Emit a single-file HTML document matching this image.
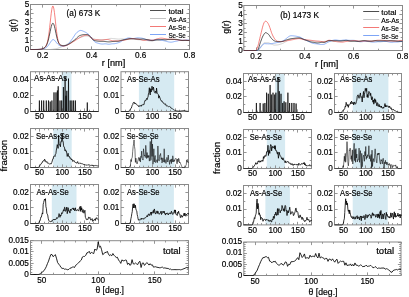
<!DOCTYPE html>
<html><head><meta charset="utf-8"><style>
html,body{margin:0;padding:0;background:#fff;width:409px;height:297px;overflow:hidden}
svg{display:block;will-change:transform}
text{font-family:"Liberation Sans", sans-serif;stroke:#000;stroke-width:0.18px}
</style></head><body>
<svg width="409" height="297" viewBox="0 0 409 297" font-family='"Liberation Sans", sans-serif'>
<rect width="409" height="297" fill="#fff"/>
<path d="M42.5 49.5v-3.1M42.5 4.5v3.1M91.5 49.5v-3.1M91.5 4.5v3.1M140.5 49.5v-3.1M140.5 4.5v3.1M189.5 49.5v-3.1M189.5 4.5v3.1M67.5 49.5v-1.8M67.5 4.5v1.8M116.5 49.5v-1.8M116.5 4.5v1.8M165.5 49.5v-1.8M165.5 4.5v1.8M30.5 49.5h3.1M189.5 49.5h-3.1M30.5 40.5h3.1M189.5 40.5h-3.1M30.5 31.5h3.1M189.5 31.5h-3.1M30.5 22.5h3.1M189.5 22.5h-3.1M30.5 13.5h3.1M189.5 13.5h-3.1M30.5 4.5h3.1M189.5 4.5h-3.1M30.5 45.5h1.8M189.5 45.5h-1.8M30.5 36.5h1.8M189.5 36.5h-1.8M30.5 27.5h1.8M189.5 27.5h-1.8M30.5 18.5h1.8M189.5 18.5h-1.8M30.5 9.5h1.8M189.5 9.5h-1.8" stroke="#8a8a8a" stroke-width="0.9" fill="none"/>
<rect x="30.5" y="4.5" width="159" height="45" fill="none" stroke="#8a8a8a" stroke-width="1.0"/>
<polyline points="30.50,49.50 31.03,49.50 31.56,49.50 32.10,49.50 32.63,49.50 33.16,49.50 33.69,49.50 34.22,49.50 34.75,49.50 35.29,49.50 35.82,49.50 36.35,49.50 36.88,49.50 37.41,49.50 37.94,49.50 38.48,49.50 39.01,49.50 39.54,49.50 40.07,49.50 40.60,49.50 41.14,49.50 41.67,49.50 42.20,49.50 42.73,49.50 43.26,49.50 43.79,49.50 44.33,49.50 44.86,49.50 45.39,49.50 45.92,49.50 46.45,49.50 46.98,49.50 47.52,49.50 48.05,49.50 48.58,49.50 49.11,49.50 49.64,49.49 50.18,49.47 50.71,49.44 51.24,49.40 51.77,49.35 52.30,49.30 52.83,49.24 53.37,49.17 53.90,49.10 54.43,49.03 54.96,48.96 55.49,48.87 56.03,48.76 56.56,48.63 57.09,48.47 57.62,48.30 58.15,48.13 58.68,47.94 59.22,47.75 59.75,47.56 60.28,47.36 60.81,47.15 61.34,46.92 61.87,46.68 62.41,46.43 62.94,46.18 63.47,45.93 64.00,45.67 64.53,45.41 65.07,45.13 65.60,44.86 66.13,44.58 66.66,44.29 67.19,44.00 67.72,43.71 68.26,43.42 68.79,43.13 69.32,42.84 69.85,42.55 70.38,42.27 70.91,41.99 71.45,41.72 71.98,41.45 72.51,41.19 73.04,40.92 73.57,40.64 74.11,40.36 74.64,40.08 75.17,39.80 75.70,39.52 76.23,39.24 76.76,38.96 77.30,38.70 77.83,38.44 78.36,38.19 78.89,37.95 79.42,37.72 79.95,37.51 80.49,37.32 81.02,37.14 81.55,36.98 82.08,36.85 82.61,36.71 83.15,36.57 83.68,36.44 84.21,36.32 84.74,36.21 85.27,36.12 85.80,36.05 86.34,36.01 86.87,36.00 87.40,36.06 87.93,36.19 88.46,36.37 88.99,36.59 89.53,36.84 90.06,37.10 90.59,37.35 91.12,37.59 91.65,37.80 92.19,38.00 92.72,38.22 93.25,38.46 93.78,38.69 94.31,38.92 94.84,39.12 95.38,39.30 95.91,39.43 96.44,39.50 96.97,39.53 97.50,39.55 98.04,39.56 98.57,39.57 99.10,39.56 99.63,39.55 100.16,39.54 100.69,39.53 101.23,39.51 101.76,39.51 102.29,39.51 102.82,39.52 103.35,39.54 103.88,39.57 104.42,39.61 104.95,39.63 105.48,39.63 106.01,39.60 106.54,39.52 107.08,39.41 107.61,39.24 108.14,39.05 108.67,38.85 109.20,38.67 109.73,38.53 110.27,38.45 110.80,38.42 111.33,38.43 111.86,38.47 112.39,38.52 112.92,38.57 113.46,38.61 113.99,38.65 114.52,38.69 115.05,38.73 115.58,38.78 116.12,38.85 116.65,38.92 117.18,38.98 117.71,39.04 118.24,39.08 118.77,39.10 119.31,39.09 119.84,39.05 120.37,39.01 120.90,38.96 121.43,38.93 121.96,38.92 122.50,38.94 123.03,38.99 123.56,39.05 124.09,39.11 124.62,39.17 125.16,39.23 125.69,39.28 126.22,39.33 126.75,39.38 127.28,39.42 127.81,39.45 128.35,39.45 128.88,39.43 129.41,39.37 129.94,39.29 130.47,39.18 131.01,39.06 131.54,38.95 132.07,38.86 132.60,38.79 133.13,38.75 133.66,38.76 134.20,38.81 134.73,38.90 135.26,39.02 135.79,39.18 136.32,39.34 136.85,39.48 137.39,39.59 137.92,39.67 138.45,39.72 138.98,39.75 139.51,39.78 140.05,39.82 140.58,39.87 141.11,39.93 141.64,40.00 142.17,40.08 142.70,40.16 143.24,40.24 143.77,40.31 144.30,40.36 144.83,40.40 145.36,40.43 145.89,40.45 146.43,40.47 146.96,40.51 147.49,40.56 148.02,40.64 148.55,40.73 149.09,40.83 149.62,40.92 150.15,40.99 150.68,41.01 151.21,41.00 151.74,40.96 152.28,40.89 152.81,40.80 153.34,40.70 153.87,40.60 154.40,40.51 154.93,40.43 155.47,40.37 156.00,40.32 156.53,40.30 157.06,40.29 157.59,40.29 158.13,40.30 158.66,40.31 159.19,40.30 159.72,40.27 160.25,40.20 160.78,40.11 161.32,39.98 161.85,39.84 162.38,39.68 162.91,39.54 163.44,39.42 163.97,39.34 164.51,39.30 165.04,39.31 165.57,39.34 166.10,39.40 166.63,39.46 167.17,39.51 167.70,39.56 168.23,39.59 168.76,39.59 169.29,39.58 169.82,39.56 170.36,39.52 170.89,39.48 171.42,39.44 171.95,39.39 172.48,39.34 173.02,39.29 173.55,39.23 174.08,39.18 174.61,39.13 175.14,39.11 175.67,39.12 176.21,39.17 176.74,39.24 177.27,39.35 177.80,39.48 178.33,39.63 178.86,39.78 179.40,39.92 179.93,40.04 180.46,40.14 180.99,40.20 181.52,40.23 182.06,40.23 182.59,40.20 183.12,40.17 183.65,40.14 184.18,40.13 184.71,40.15 185.25,40.20 185.78,40.28 186.31,40.37 186.84,40.45 187.37,40.51 187.90,40.55 188.44,40.56 188.97,40.56 189.50,40.56" fill="none" stroke="#bdbdbd" stroke-width="0.7" stroke-linejoin="round"/>
<polyline points="30.50,49.50 31.03,49.50 31.56,49.50 32.10,49.50 32.63,49.50 33.16,49.50 33.69,49.49 34.22,49.49 34.75,49.49 35.29,49.48 35.82,49.48 36.35,49.47 36.88,49.46 37.41,49.45 37.94,49.43 38.48,49.41 39.01,49.38 39.54,49.35 40.07,49.30 40.60,49.25 41.14,49.18 41.67,49.11 42.20,49.01 42.73,48.90 43.26,48.77 43.79,48.62 44.33,48.44 44.86,48.23 45.39,47.97 45.92,47.67 46.45,47.31 46.98,46.88 47.52,46.37 48.05,45.78 48.58,45.11 49.11,44.35 49.64,43.54 50.18,42.70 50.71,41.88 51.24,41.11 51.77,40.45 52.30,39.96 52.83,39.67 53.37,39.61 53.90,39.77 54.43,40.16 54.96,40.72 55.49,41.40 56.03,42.09 56.56,42.77 57.09,43.41 57.62,43.99 58.15,44.50 58.68,44.95 59.22,45.32 59.75,45.59 60.28,45.79 60.81,45.92 61.34,46.02 61.87,46.09 62.41,46.13 62.94,46.12 63.47,46.06 64.00,45.99 64.53,45.89 65.07,45.75 65.60,45.59 66.13,45.39 66.66,45.15 67.19,44.86 67.72,44.49 68.26,44.02 68.79,43.46 69.32,42.83 69.85,42.15 70.38,41.43 70.91,40.70 71.45,39.98 71.98,39.28 72.51,38.57 73.04,37.79 73.57,36.97 74.11,36.12 74.64,35.29 75.17,34.49 75.70,33.75 76.23,33.10 76.76,32.57 77.30,32.16 77.83,31.75 78.36,31.36 78.89,31.01 79.42,30.73 79.95,30.52 80.49,30.43 81.02,30.44 81.55,30.54 82.08,30.70 82.61,30.90 83.15,31.14 83.68,31.39 84.21,31.63 84.74,31.88 85.27,32.15 85.80,32.44 86.34,32.76 86.87,33.11 87.40,33.49 87.93,33.89 88.46,34.34 88.99,34.85 89.53,35.42 90.06,36.02 90.59,36.64 91.12,37.35 91.65,38.12 92.19,38.91 92.72,39.65 93.25,40.27 93.78,40.85 94.31,41.40 94.84,41.88 95.38,42.27 95.91,42.55 96.44,42.72 96.97,42.88 97.50,43.04 98.04,43.20 98.57,43.36 99.10,43.51 99.63,43.65 100.16,43.78 100.69,43.88 101.23,43.96 101.76,44.01 102.29,44.03 102.82,44.03 103.35,43.99 103.88,43.93 104.42,43.87 104.95,43.82 105.48,43.82 106.01,43.86 106.54,43.93 107.08,44.03 107.61,44.13 108.14,44.21 108.67,44.24 109.20,44.23 109.73,44.18 110.27,44.10 110.80,44.01 111.33,43.92 111.86,43.85 112.39,43.80 112.92,43.77 113.46,43.75 113.99,43.72 114.52,43.68 115.05,43.61 115.58,43.52 116.12,43.41 116.65,43.28 117.18,43.13 117.71,42.95 118.24,42.77 118.77,42.58 119.31,42.38 119.84,42.15 120.37,41.89 120.90,41.60 121.43,41.27 121.96,40.92 122.50,40.56 123.03,40.21 123.56,39.89 124.09,39.58 124.62,39.29 125.16,39.01 125.69,38.77 126.22,38.55 126.75,38.36 127.28,38.20 127.81,38.08 128.35,38.00 128.88,37.96 129.41,37.97 129.94,38.02 130.47,38.12 131.01,38.25 131.54,38.37 132.07,38.46 132.60,38.52 133.13,38.54 133.66,38.51 134.20,38.45 134.73,38.36 135.26,38.25 135.79,38.14 136.32,38.03 136.85,37.94 137.39,37.88 137.92,37.85 138.45,37.85 138.98,37.88 139.51,37.91 140.05,37.95 140.58,37.99 141.11,38.04 141.64,38.12 142.17,38.23 142.70,38.36 143.24,38.51 143.77,38.69 144.30,38.88 144.83,39.08 145.36,39.30 145.89,39.52 146.43,39.74 146.96,39.94 147.49,40.10 148.02,40.21 148.55,40.27 149.09,40.29 149.62,40.28 150.15,40.25 150.68,40.20 151.21,40.16 151.74,40.13 152.28,40.13 152.81,40.13 153.34,40.13 153.87,40.11 154.40,40.05 154.93,39.96 155.47,39.84 156.00,39.72 156.53,39.61 157.06,39.54 157.59,39.52 158.13,39.55 158.66,39.63 159.19,39.74 159.72,39.88 160.25,40.02 160.78,40.15 161.32,40.28 161.85,40.38 162.38,40.47 162.91,40.56 163.44,40.64 163.97,40.74 164.51,40.85 165.04,40.97 165.57,41.11 166.10,41.26 166.63,41.41 167.17,41.56 167.70,41.70 168.23,41.83 168.76,41.94 169.29,42.03 169.82,42.10 170.36,42.15 170.89,42.17 171.42,42.15 171.95,42.10 172.48,42.01 173.02,41.89 173.55,41.76 174.08,41.63 174.61,41.51 175.14,41.40 175.67,41.30 176.21,41.21 176.74,41.10 177.27,40.98 177.80,40.83 178.33,40.67 178.86,40.52 179.40,40.38 179.93,40.28 180.46,40.22 180.99,40.20 181.52,40.20 182.06,40.23 182.59,40.25 183.12,40.24 183.65,40.21 184.18,40.16 184.71,40.10 185.25,40.04 185.78,40.00 186.31,39.97 186.84,39.98 187.37,40.00 187.90,40.03 188.44,40.08 188.97,40.14 189.50,40.22" fill="none" stroke="#5a8df2" stroke-width="0.7" stroke-linejoin="round"/>
<polyline points="30.50,49.50 31.03,49.50 31.56,49.50 32.10,49.50 32.63,49.50 33.16,49.50 33.69,49.50 34.22,49.50 34.75,49.50 35.29,49.49 35.82,49.49 36.35,49.48 36.88,49.48 37.41,49.47 37.94,49.45 38.48,49.43 39.01,49.40 39.54,49.36 40.07,49.30 40.60,49.23 41.14,49.14 41.67,49.02 42.20,48.88 42.73,48.69 43.26,48.46 43.79,48.17 44.33,47.80 44.86,47.34 45.39,46.74 45.92,45.95 46.45,44.89 46.98,43.47 47.52,41.57 48.05,39.09 48.58,35.94 49.11,32.10 49.64,27.66 50.18,22.80 50.71,17.86 51.24,13.26 51.77,9.48 52.30,6.94 52.83,5.95 53.37,6.64 53.90,8.92 54.43,12.51 54.96,16.99 55.49,21.90 56.03,26.80 56.56,31.32 57.09,35.16 57.62,38.26 58.15,40.64 58.68,42.39 59.22,43.65 59.75,44.52 60.28,45.06 60.81,45.38 61.34,45.58 61.87,45.75 62.41,45.90 62.94,46.02 63.47,46.07 64.00,46.05 64.53,45.98 65.07,45.86 65.60,45.71 66.13,45.53 66.66,45.32 67.19,45.10 67.72,44.87 68.26,44.61 68.79,44.34 69.32,44.06 69.85,43.76 70.38,43.46 70.91,43.15 71.45,42.83 71.98,42.51 72.51,42.19 73.04,41.86 73.57,41.53 74.11,41.21 74.64,40.89 75.17,40.55 75.70,40.21 76.23,39.85 76.76,39.49 77.30,39.13 77.83,38.78 78.36,38.44 78.89,38.11 79.42,37.80 79.95,37.51 80.49,37.22 81.02,36.94 81.55,36.66 82.08,36.39 82.61,36.14 83.15,35.92 83.68,35.72 84.21,35.57 84.74,35.46 85.27,35.34 85.80,35.24 86.34,35.16 86.87,35.11 87.40,35.11 87.93,35.23 88.46,35.48 88.99,35.82 89.53,36.22 90.06,36.63 90.59,37.02 91.12,37.55 91.65,38.17 92.19,38.77 92.72,39.24 93.25,39.47 93.78,39.60 94.31,39.71 94.84,39.77 95.38,39.81 95.91,39.81 96.44,39.79 96.97,39.79 97.50,39.81 98.04,39.86 98.57,39.92 99.10,39.98 99.63,40.05 100.16,40.10 100.69,40.13 101.23,40.14 101.76,40.13 102.29,40.10 102.82,40.04 103.35,39.96 103.88,39.87 104.42,39.76 104.95,39.66 105.48,39.58 106.01,39.51 106.54,39.47 107.08,39.46 107.61,39.49 108.14,39.57 108.67,39.68 109.20,39.83 109.73,39.99 110.27,40.16 110.80,40.34 111.33,40.51 111.86,40.65 112.39,40.77 112.92,40.85 113.46,40.90 113.99,40.91 114.52,40.91 115.05,40.89 115.58,40.88 116.12,40.87 116.65,40.87 117.18,40.87 117.71,40.86 118.24,40.84 118.77,40.81 119.31,40.77 119.84,40.72 120.37,40.67 120.90,40.62 121.43,40.57 121.96,40.52 122.50,40.46 123.03,40.40 123.56,40.33 124.09,40.24 124.62,40.13 125.16,40.00 125.69,39.86 126.22,39.71 126.75,39.56 127.28,39.42 127.81,39.28 128.35,39.14 128.88,39.01 129.41,38.89 129.94,38.79 130.47,38.70 131.01,38.63 131.54,38.58 132.07,38.55 132.60,38.54 133.13,38.56 133.66,38.60 134.20,38.68 134.73,38.77 135.26,38.87 135.79,38.98 136.32,39.07 136.85,39.14 137.39,39.20 137.92,39.24 138.45,39.29 138.98,39.34 139.51,39.41 140.05,39.50 140.58,39.62 141.11,39.75 141.64,39.90 142.17,40.05 142.70,40.18 143.24,40.27 143.77,40.33 144.30,40.35 144.83,40.32 145.36,40.25 145.89,40.17 146.43,40.08 146.96,40.02 147.49,39.98 148.02,39.98 148.55,40.00 149.09,40.04 149.62,40.09 150.15,40.13 150.68,40.17 151.21,40.20 151.74,40.21 152.28,40.21 152.81,40.18 153.34,40.11 153.87,39.98 154.40,39.82 154.93,39.63 155.47,39.44 156.00,39.25 156.53,39.06 157.06,38.90 157.59,38.74 158.13,38.60 158.66,38.47 159.19,38.36 159.72,38.27 160.25,38.20 160.78,38.16 161.32,38.15 161.85,38.16 162.38,38.20 162.91,38.27 163.44,38.36 163.97,38.44 164.51,38.53 165.04,38.63 165.57,38.73 166.10,38.83 166.63,38.93 167.17,39.03 167.70,39.12 168.23,39.19 168.76,39.24 169.29,39.25 169.82,39.24 170.36,39.22 170.89,39.19 171.42,39.18 171.95,39.19 172.48,39.22 173.02,39.27 173.55,39.33 174.08,39.41 174.61,39.49 175.14,39.57 175.67,39.64 176.21,39.72 176.74,39.79 177.27,39.87 177.80,39.95 178.33,40.03 178.86,40.11 179.40,40.19 179.93,40.25 180.46,40.31 180.99,40.36 181.52,40.38 182.06,40.38 182.59,40.36 183.12,40.32 183.65,40.27 184.18,40.22 184.71,40.19 185.25,40.19 185.78,40.22 186.31,40.28 186.84,40.34 187.37,40.38 187.90,40.40 188.44,40.39 188.97,40.34 189.50,40.27" fill="none" stroke="#f04c48" stroke-width="0.7" stroke-linejoin="round"/>
<polyline points="30.50,49.50 31.03,49.50 31.56,49.50 32.10,49.50 32.63,49.50 33.16,49.50 33.69,49.50 34.22,49.50 34.75,49.49 35.29,49.49 35.82,49.49 36.35,49.48 36.88,49.47 37.41,49.46 37.94,49.44 38.48,49.41 39.01,49.38 39.54,49.34 40.07,49.29 40.60,49.22 41.14,49.13 41.67,49.02 42.20,48.88 42.73,48.71 43.26,48.49 43.79,48.22 44.33,47.88 44.86,47.45 45.39,46.90 45.92,46.19 46.45,45.28 46.98,44.13 47.52,42.70 48.05,40.96 48.58,38.92 49.11,36.59 49.64,34.06 50.18,31.46 50.71,28.93 51.24,26.67 51.77,24.87 52.30,23.68 52.83,23.22 53.37,23.54 53.90,24.60 54.43,26.31 54.96,28.50 55.49,30.99 56.03,33.60 56.56,36.11 57.09,38.34 57.62,40.21 58.15,41.73 58.68,42.91 59.22,43.82 59.75,44.49 60.28,44.91 60.81,45.16 61.34,45.31 61.87,45.45 62.41,45.58 62.94,45.67 63.47,45.72 64.00,45.70 64.53,45.64 65.07,45.56 65.60,45.44 66.13,45.29 66.66,45.11 67.19,44.91 67.72,44.68 68.26,44.41 68.79,44.12 69.32,43.80 69.85,43.47 70.38,43.11 70.91,42.75 71.45,42.37 71.98,41.97 72.51,41.58 73.04,41.18 73.57,40.77 74.11,40.37 74.64,39.97 75.17,39.53 75.70,39.04 76.23,38.52 76.76,37.98 77.30,37.46 77.83,36.95 78.36,36.49 78.89,36.09 79.42,35.77 79.95,35.54 80.49,35.35 81.02,35.18 81.55,35.02 82.08,34.87 82.61,34.75 83.15,34.65 83.68,34.59 84.21,34.56 84.74,34.56 85.27,34.57 85.80,34.58 86.34,34.60 86.87,34.63 87.40,34.67 87.93,34.82 88.46,35.11 88.99,35.49 89.53,35.93 90.06,36.40 90.59,36.87 91.12,37.48 91.65,38.22 92.19,38.94 92.72,39.54 93.25,39.92 93.78,40.19 94.31,40.42 94.84,40.63 95.38,40.79 95.91,40.91 96.44,40.98 96.97,41.05 97.50,41.12 98.04,41.18 98.57,41.24 99.10,41.29 99.63,41.33 100.16,41.35 100.69,41.37 101.23,41.37 101.76,41.38 102.29,41.38 102.82,41.38 103.35,41.39 103.88,41.42 104.42,41.46 104.95,41.51 105.48,41.57 106.01,41.63 106.54,41.69 107.08,41.75 107.61,41.80 108.14,41.84 108.67,41.87 109.20,41.87 109.73,41.84 110.27,41.80 110.80,41.74 111.33,41.67 111.86,41.60 112.39,41.54 112.92,41.48 113.46,41.43 113.99,41.39 114.52,41.36 115.05,41.34 115.58,41.34 116.12,41.34 116.65,41.34 117.18,41.33 117.71,41.31 118.24,41.25 118.77,41.17 119.31,41.04 119.84,40.89 120.37,40.71 120.90,40.53 121.43,40.34 121.96,40.18 122.50,40.04 123.03,39.92 123.56,39.83 124.09,39.75 124.62,39.67 125.16,39.58 125.69,39.48 126.22,39.38 126.75,39.27 127.28,39.15 127.81,39.02 128.35,38.90 128.88,38.80 129.41,38.73 129.94,38.70 130.47,38.71 131.01,38.74 131.54,38.78 132.07,38.82 132.60,38.85 133.13,38.87 133.66,38.89 134.20,38.91 134.73,38.94 135.26,38.97 135.79,38.99 136.32,39.00 136.85,39.02 137.39,39.04 137.92,39.06 138.45,39.10 138.98,39.14 139.51,39.16 140.05,39.17 140.58,39.15 141.11,39.12 141.64,39.08 142.17,39.05 142.70,39.04 143.24,39.06 143.77,39.10 144.30,39.16 144.83,39.24 145.36,39.32 145.89,39.40 146.43,39.49 146.96,39.58 147.49,39.68 148.02,39.78 148.55,39.89 149.09,40.02 149.62,40.15 150.15,40.28 150.68,40.41 151.21,40.51 151.74,40.57 152.28,40.58 152.81,40.55 153.34,40.47 153.87,40.36 154.40,40.23 154.93,40.10 155.47,39.99 156.00,39.91 156.53,39.87 157.06,39.84 157.59,39.84 158.13,39.83 158.66,39.80 159.19,39.77 159.72,39.71 160.25,39.66 160.78,39.61 161.32,39.57 161.85,39.55 162.38,39.56 162.91,39.60 163.44,39.66 163.97,39.73 164.51,39.79 165.04,39.83 165.57,39.84 166.10,39.81 166.63,39.74 167.17,39.65 167.70,39.55 168.23,39.47 168.76,39.41 169.29,39.38 169.82,39.37 170.36,39.38 170.89,39.41 171.42,39.43 171.95,39.45 172.48,39.46 173.02,39.46 173.55,39.45 174.08,39.44 174.61,39.44 175.14,39.45 175.67,39.46 176.21,39.48 176.74,39.51 177.27,39.55 177.80,39.62 178.33,39.71 178.86,39.83 179.40,39.96 179.93,40.10 180.46,40.23 180.99,40.34 181.52,40.43 182.06,40.48 182.59,40.52 183.12,40.53 183.65,40.52 184.18,40.51 184.71,40.50 185.25,40.49 185.78,40.48 186.31,40.48 186.84,40.48 187.37,40.48 187.90,40.48 188.44,40.48 188.97,40.48 189.50,40.49" fill="none" stroke="#111" stroke-width="0.7" stroke-linejoin="round"/>
<text x="66.5" y="15.8" font-size="8.2" textLength="33.8" lengthAdjust="spacingAndGlyphs">(a) 673 K</text>
<line x1="150" y1="10.5" x2="166" y2="10.5" stroke="#3a3a3a" stroke-width="0.9"/>
<text x="168.4" y="13.6" font-size="8.0" textLength="15.2" lengthAdjust="spacingAndGlyphs">total</text>
<line x1="150" y1="18.5" x2="166" y2="18.5" stroke="#bdbdbd" stroke-width="0.9"/>
<text x="168.4" y="21.6" font-size="8.0" textLength="18" lengthAdjust="spacingAndGlyphs">As-As</text>
<line x1="150" y1="26.5" x2="166" y2="26.5" stroke="#f26a66" stroke-width="0.9"/>
<text x="168.4" y="29.6" font-size="8.0" textLength="17.6" lengthAdjust="spacingAndGlyphs">As-Se</text>
<line x1="150" y1="34.5" x2="166" y2="34.5" stroke="#6f9bf5" stroke-width="0.9"/>
<text x="168.4" y="37.6" font-size="8.0" textLength="17.4" lengthAdjust="spacingAndGlyphs">Se-Se</text>
<text x="29.4" y="52.4" font-size="8.2" text-anchor="end">0</text>
<text x="29.4" y="43.4" font-size="8.2" text-anchor="end">1</text>
<text x="29.4" y="34.4" font-size="8.2" text-anchor="end">2</text>
<text x="29.4" y="25.4" font-size="8.2" text-anchor="end">3</text>
<text x="29.4" y="16.4" font-size="8.2" text-anchor="end">4</text>
<text x="29.4" y="7.4" font-size="8.2" text-anchor="end">5</text>
<text x="42.73" y="57.7" font-size="8.2" text-anchor="middle">0.2</text>
<text x="91.65" y="57.7" font-size="8.2" text-anchor="middle">0.4</text>
<text x="140.58" y="57.7" font-size="8.2" text-anchor="middle">0.6</text>
<text x="189.5" y="57.7" font-size="8.2" text-anchor="middle">0.8</text>
<text x="16.1" y="25.4" font-size="8.6" text-anchor="middle" textLength="12.6" lengthAdjust="spacingAndGlyphs" transform="rotate(-90 16.1 25.4)">g(r)</text>
<text x="113.5" y="65.5" font-size="8.4" text-anchor="middle" textLength="23.4" lengthAdjust="spacingAndGlyphs">r [nm]</text>
<rect x="61.5" y="71.7" width="10" height="39.8" fill="#d6eaf2"/>
<path d="M39.5 111.5v-3.1M39.5 71.7v3.1M62.5 111.5v-3.1M62.5 71.7v3.1M84.5 111.5v-3.1M84.5 71.7v3.1M35.5 111.5v-1.8M35.5 71.7v1.8M44.5 111.5v-1.8M44.5 71.7v1.8M48.5 111.5v-1.8M48.5 71.7v1.8M53.5 111.5v-1.8M53.5 71.7v1.8M57.5 111.5v-1.8M57.5 71.7v1.8M66.5 111.5v-1.8M66.5 71.7v1.8M71.5 111.5v-1.8M71.5 71.7v1.8M75.5 111.5v-1.8M75.5 71.7v1.8M80.5 111.5v-1.8M80.5 71.7v1.8M89.5 111.5v-1.8M89.5 71.7v1.8M93.5 111.5v-1.8M93.5 71.7v1.8M30.5 111.5h3.1M98.5 111.5h-3.1M30.5 95.5h3.1M98.5 95.5h-3.1M30.5 79.5h3.1M98.5 79.5h-3.1M30.5 103.5h1.8M98.5 103.5h-1.8M30.5 87.5h1.8M98.5 87.5h-1.8" stroke="#8a8a8a" stroke-width="0.9" fill="none"/>
<rect x="30.5" y="71.7" width="68" height="39.8" fill="none" stroke="#8a8a8a" stroke-width="1.0"/>
<path d="M30.5 111.5L39.18 111.5L39.4 100.52L39.62 111.5L41.38 111.5L41.6 100.52L41.82 111.5L43.48 111.5L43.7 100.52L43.92 111.5L46.08 111.5L46.3 100.52L46.52 111.5L48.28 111.5L48.5 100.52L48.72 111.5L49.98 111.5L50.2 101.55L50.42 111.5L51.68 111.5L51.9 100.52L52.12 111.5L53.78 111.5L54 92.4L54.22 111.5L55.78 111.5L56 92.4L56.22 111.5L57.18 111.5L57.4 90.49L57.62 111.5L57.98 111.5L58.2 86.27L58.42 111.5L59.78 111.5L60 100.52L60.22 111.5L61.48 111.5L61.7 100.52L61.92 111.5L63.18 111.5L63.4 87.06L63.62 111.5L64.88 111.5L65.1 76.79L65.32 111.5L65.78 111.5L66 95.74L66.22 111.5L66.58 111.5L66.8 90.8L67.02 111.5L68.28 111.5L68.5 78.63L68.72 111.5L69.98 111.5L70.2 100.52L70.42 111.5L71.68 111.5L71.9 100.52L72.12 111.5L73.38 111.5L73.6 100.52L73.82 111.5L75.18 111.5L75.4 100.52L75.62 111.5L87.08 111.5L87.3 102.51L87.52 111.5L98.5 111.5" fill="none" stroke="#000" stroke-width="0.7" stroke-linejoin="round"/>
<text x="34.1" y="81.3" font-size="8.3" textLength="33.1" lengthAdjust="spacingAndGlyphs">As-As-As</text>
<text x="28.9" y="113.8" font-size="8.2" text-anchor="end">0</text>
<text x="28.9" y="97.88" font-size="8.2" text-anchor="end">0.02</text>
<text x="28.9" y="81.96" font-size="8.2" text-anchor="end">0.04</text>
<text x="39.57" y="119.4" font-size="8.2" text-anchor="middle">50</text>
<text x="62.23" y="119.4" font-size="8.2" text-anchor="middle">100</text>
<text x="84.9" y="119.4" font-size="8.2" text-anchor="middle">150</text>
<rect x="138.9" y="71.7" width="35.3" height="39.8" fill="#d6eaf2"/>
<path d="M130.5 111.5v-3.1M130.5 71.7v3.1M152.5 111.5v-3.1M152.5 71.7v3.1M175.5 111.5v-3.1M175.5 71.7v3.1M125.5 111.5v-1.8M125.5 71.7v1.8M134.5 111.5v-1.8M134.5 71.7v1.8M139.5 111.5v-1.8M139.5 71.7v1.8M143.5 111.5v-1.8M143.5 71.7v1.8M148.5 111.5v-1.8M148.5 71.7v1.8M157.5 111.5v-1.8M157.5 71.7v1.8M161.5 111.5v-1.8M161.5 71.7v1.8M166.5 111.5v-1.8M166.5 71.7v1.8M170.5 111.5v-1.8M170.5 71.7v1.8M179.5 111.5v-1.8M179.5 71.7v1.8M184.5 111.5v-1.8M184.5 71.7v1.8M121 111.5h3.1M188.5 111.5h-3.1M121 95.5h3.1M188.5 95.5h-3.1M121 79.5h3.1M188.5 79.5h-3.1M121 103.5h1.8M188.5 103.5h-1.8M121 87.5h1.8M188.5 87.5h-1.8" stroke="#8a8a8a" stroke-width="0.9" fill="none"/>
<rect x="121" y="71.7" width="67.5" height="39.8" fill="none" stroke="#8a8a8a" stroke-width="1.0"/>
<polyline points="121.00,111.50 121.45,111.50 121.90,111.50 122.35,111.50 122.80,111.50 123.25,111.50 123.70,111.50 124.15,111.50 124.60,111.50 125.05,111.50 125.50,111.50 125.95,111.50 126.40,111.50 126.85,111.50 127.30,111.50 127.75,111.50 128.20,111.50 128.65,111.35 129.10,110.92 129.55,110.32 130.00,109.76 130.45,109.03 130.90,108.51 131.35,108.08 131.80,106.50 132.25,105.24 132.70,104.73 133.15,102.80 133.60,102.47 134.05,101.98 134.50,102.93 134.95,103.93 135.40,102.96 135.85,103.61 136.30,104.40 136.75,104.86 137.20,105.11 137.65,105.35 138.10,105.75 138.55,106.53 139.00,105.46 139.45,106.37 139.90,105.88 140.35,105.84 140.80,105.56 141.25,106.27 141.70,105.03 142.15,105.18 142.60,104.92 143.05,104.25 143.50,104.66 143.95,104.76 144.40,102.53 144.85,100.99 145.30,100.15 145.75,100.60 146.20,99.49 146.65,98.42 147.10,99.65 147.55,97.83 148.00,97.07 148.45,93.88 148.90,92.33 149.35,87.72 149.80,93.48 150.25,94.92 150.70,88.70 151.15,92.04 151.60,88.64 152.05,86.19 152.50,89.33 152.95,90.26 153.40,87.02 153.85,89.50 154.30,92.29 154.75,92.71 155.20,92.37 155.65,91.19 156.10,93.47 156.55,88.08 157.00,92.32 157.45,93.40 157.90,93.81 158.35,94.61 158.80,98.17 159.25,95.77 159.70,97.23 160.15,98.24 160.60,99.71 161.05,100.74 161.50,100.95 161.95,100.74 162.40,102.21 162.85,102.53 163.30,102.93 163.75,102.73 164.20,103.86 164.65,104.32 165.10,104.11 165.55,103.88 166.00,105.20 166.45,106.10 166.90,105.70 167.35,105.92 167.80,106.03 168.25,106.40 168.70,106.75 169.15,106.67 169.60,106.30 170.05,106.78 170.50,107.17 170.95,108.10 171.40,108.00 171.85,108.60 172.30,108.74 172.75,109.19 173.20,109.60 173.65,109.53 174.10,109.88 174.55,110.29 175.00,110.54 175.45,110.61 175.90,110.61 176.35,110.82 176.80,110.86 177.25,110.91 177.70,111.05 178.15,111.06 178.60,111.11 179.05,111.13 179.50,111.22 179.95,111.14 180.40,111.10 180.85,110.97 181.30,110.90 181.75,110.83 182.20,110.68 182.65,110.74 183.10,110.60 183.55,110.58 184.00,110.43 184.45,110.57 184.90,110.86 185.35,110.86 185.80,111.11 186.25,111.16 186.70,111.24 187.15,111.27 187.60,111.30 188.05,111.33 188.50,111.35" fill="none" stroke="#000" stroke-width="0.8" stroke-linejoin="round"/>
<text x="127" y="81.5" font-size="8.3" textLength="32.6" lengthAdjust="spacingAndGlyphs">As-Se-As</text>
<text x="119.4" y="113.8" font-size="8.2" text-anchor="end">0</text>
<text x="119.4" y="97.88" font-size="8.2" text-anchor="end">0.01</text>
<text x="119.4" y="81.96" font-size="8.2" text-anchor="end">0.02</text>
<text x="130" y="119.4" font-size="8.2" text-anchor="middle">50</text>
<text x="152.5" y="119.4" font-size="8.2" text-anchor="middle">100</text>
<text x="175" y="119.4" font-size="8.2" text-anchor="middle">150</text>
<rect x="53.2" y="128.5" width="18.5" height="39" fill="#d6eaf2"/>
<path d="M39.5 167.5v-3.1M39.5 128.5v3.1M62.5 167.5v-3.1M62.5 128.5v3.1M84.5 167.5v-3.1M84.5 128.5v3.1M35.5 167.5v-1.8M35.5 128.5v1.8M44.5 167.5v-1.8M44.5 128.5v1.8M48.5 167.5v-1.8M48.5 128.5v1.8M53.5 167.5v-1.8M53.5 128.5v1.8M57.5 167.5v-1.8M57.5 128.5v1.8M66.5 167.5v-1.8M66.5 128.5v1.8M71.5 167.5v-1.8M71.5 128.5v1.8M75.5 167.5v-1.8M75.5 128.5v1.8M80.5 167.5v-1.8M80.5 128.5v1.8M89.5 167.5v-1.8M89.5 128.5v1.8M93.5 167.5v-1.8M93.5 128.5v1.8M30.5 167.5h3.1M98.5 167.5h-3.1M30.5 151.5h3.1M98.5 151.5h-3.1M30.5 136.5h3.1M98.5 136.5h-3.1M30.5 159.5h1.8M98.5 159.5h-1.8M30.5 144.5h1.8M98.5 144.5h-1.8" stroke="#8a8a8a" stroke-width="0.9" fill="none"/>
<rect x="30.5" y="128.5" width="68" height="39" fill="none" stroke="#8a8a8a" stroke-width="1.0"/>
<polyline points="30.50,167.50 30.95,167.50 31.41,167.50 31.86,167.50 32.31,167.50 32.77,167.50 33.22,167.50 33.67,167.50 34.13,167.50 34.58,167.50 35.03,167.50 35.49,167.50 35.94,167.50 36.39,167.50 36.85,167.50 37.30,167.50 37.75,167.50 38.21,167.50 38.66,167.17 39.11,166.54 39.57,166.18 40.02,165.28 40.47,164.68 40.93,163.84 41.38,163.70 41.83,162.67 42.29,162.55 42.74,161.17 43.19,160.78 43.65,160.69 44.10,161.28 44.55,159.17 45.01,159.92 45.46,160.56 45.91,162.01 46.37,162.26 46.82,161.54 47.27,162.30 47.73,163.32 48.18,163.17 48.63,163.37 49.09,163.71 49.54,164.15 49.99,163.45 50.45,163.73 50.90,163.78 51.35,163.75 51.81,162.42 52.26,160.98 52.71,159.13 53.17,159.01 53.62,156.44 54.07,156.12 54.53,155.88 54.98,156.56 55.43,154.14 55.89,153.56 56.34,150.09 56.79,147.94 57.25,144.63 57.70,146.54 58.15,148.36 58.61,135.06 59.06,144.13 59.51,145.05 59.97,144.62 60.42,146.80 60.87,141.57 61.33,141.91 61.78,138.76 62.23,133.85 62.69,141.37 63.14,141.34 63.59,145.89 64.05,147.25 64.50,147.44 64.95,150.73 65.41,149.74 65.86,151.29 66.31,150.92 66.77,153.06 67.22,156.46 67.67,154.46 68.13,153.31 68.58,156.19 69.03,156.97 69.49,156.56 69.94,158.45 70.39,158.12 70.85,158.08 71.30,159.90 71.75,159.11 72.21,159.64 72.66,161.41 73.11,161.01 73.57,160.79 74.02,160.35 74.47,161.75 74.93,161.86 75.38,162.52 75.83,162.09 76.29,162.55 76.74,163.34 77.19,162.77 77.65,161.58 78.10,162.90 78.55,163.62 79.01,163.27 79.46,163.01 79.91,163.55 80.37,163.27 80.82,163.30 81.27,163.86 81.73,163.68 82.18,164.09 82.63,163.69 83.09,164.17 83.54,164.41 83.99,164.36 84.45,164.52 84.90,164.55 85.35,164.68 85.81,165.23 86.26,165.17 86.71,164.97 87.17,164.98 87.62,165.11 88.07,164.63 88.53,164.92 88.98,165.22 89.43,165.05 89.89,164.94 90.34,165.18 90.79,165.68 91.25,165.30 91.70,165.34 92.15,164.93 92.61,165.80 93.06,165.14 93.51,165.52 93.97,165.34 94.42,165.62 94.87,165.57 95.33,165.43 95.78,165.67 96.23,165.54 96.69,165.78 97.14,165.88 97.59,165.89 98.05,165.97 98.50,165.96" fill="none" stroke="#000" stroke-width="0.8" stroke-linejoin="round"/>
<text x="36.1" y="138.5" font-size="8.3" textLength="33.1" lengthAdjust="spacingAndGlyphs">Se-As-Se</text>
<text x="28.9" y="169.8" font-size="8.2" text-anchor="end">0</text>
<text x="28.9" y="154.2" font-size="8.2" text-anchor="end">0.01</text>
<text x="28.9" y="138.6" font-size="8.2" text-anchor="end">0.02</text>
<text x="39.57" y="175.4" font-size="8.2" text-anchor="middle">50</text>
<text x="62.23" y="175.4" font-size="8.2" text-anchor="middle">100</text>
<text x="84.9" y="175.4" font-size="8.2" text-anchor="middle">150</text>
<rect x="139.7" y="128.5" width="34.8" height="39" fill="#d6eaf2"/>
<path d="M130.5 167.5v-3.1M130.5 128.5v3.1M152.5 167.5v-3.1M152.5 128.5v3.1M175.5 167.5v-3.1M175.5 128.5v3.1M125.5 167.5v-1.8M125.5 128.5v1.8M134.5 167.5v-1.8M134.5 128.5v1.8M139.5 167.5v-1.8M139.5 128.5v1.8M143.5 167.5v-1.8M143.5 128.5v1.8M148.5 167.5v-1.8M148.5 128.5v1.8M157.5 167.5v-1.8M157.5 128.5v1.8M161.5 167.5v-1.8M161.5 128.5v1.8M166.5 167.5v-1.8M166.5 128.5v1.8M170.5 167.5v-1.8M170.5 128.5v1.8M179.5 167.5v-1.8M179.5 128.5v1.8M184.5 167.5v-1.8M184.5 128.5v1.8M121 167.5h3.1M188.5 167.5h-3.1M121 151.5h3.1M188.5 151.5h-3.1M121 136.5h3.1M188.5 136.5h-3.1M121 159.5h1.8M188.5 159.5h-1.8M121 144.5h1.8M188.5 144.5h-1.8" stroke="#8a8a8a" stroke-width="0.9" fill="none"/>
<rect x="121" y="128.5" width="67.5" height="39" fill="none" stroke="#8a8a8a" stroke-width="1.0"/>
<polyline points="121.00,167.50 121.45,167.50 121.90,167.50 122.35,167.50 122.80,167.50 123.25,167.50 123.70,167.50 124.15,167.50 124.60,167.50 125.05,167.50 125.50,167.50 125.95,167.50 126.40,167.50 126.85,167.50 127.30,167.50 127.75,167.50 128.20,167.50 128.65,167.50 129.10,167.50 129.55,166.96 130.00,165.75 130.45,165.69 130.90,159.51 131.35,161.61 131.80,157.94 132.25,157.41 132.70,151.36 133.15,146.63 133.60,143.76 134.05,139.89 134.50,146.60 134.95,149.40 135.40,162.40 135.85,158.09 136.30,160.57 136.75,163.38 137.20,163.97 137.65,161.63 138.10,160.16 138.55,157.64 139.00,157.66 139.45,160.72 139.90,157.64 140.35,162.04 140.80,156.36 141.25,157.37 141.70,151.12 142.15,158.63 142.60,159.02 143.05,160.07 143.50,148.78 143.95,152.43 144.40,155.96 144.85,155.15 145.30,157.50 145.75,145.35 146.20,151.31 146.65,158.56 147.10,152.52 147.55,157.62 148.00,155.43 148.45,157.39 148.90,155.46 149.35,161.12 149.80,157.63 150.25,141.45 150.70,160.51 151.15,159.47 151.60,138.64 152.05,156.45 152.50,144.10 152.95,164.23 153.40,157.51 153.85,148.78 154.30,162.06 154.75,157.32 155.20,155.50 155.65,162.66 156.10,161.78 156.55,160.59 157.00,159.60 157.45,162.61 157.90,145.97 158.35,158.32 158.80,160.63 159.25,161.10 159.70,155.26 160.15,155.43 160.60,153.46 161.05,159.59 161.50,157.75 161.95,162.95 162.40,161.76 162.85,157.84 163.30,162.09 163.75,161.61 164.20,148.78 164.65,162.35 165.10,159.51 165.55,162.51 166.00,163.48 166.45,162.14 166.90,157.41 167.35,160.56 167.80,162.01 168.25,155.02 168.70,160.04 169.15,160.67 169.60,164.48 170.05,160.33 170.50,161.34 170.95,159.25 171.40,163.60 171.85,158.85 172.30,161.91 172.75,155.80 173.20,158.30 173.65,161.95 174.10,160.19 174.55,161.25 175.00,158.77 175.45,158.64 175.90,158.32 176.35,158.78 176.80,163.65 177.25,163.66 177.70,158.98 178.15,161.72 178.60,158.27 179.05,159.06 179.50,162.96 179.95,162.15 180.40,163.15 180.85,164.32 181.30,165.31 181.75,166.51 182.20,167.50 182.65,167.50 183.10,167.50 183.55,167.50 184.00,167.50 184.45,167.50 184.90,167.50 185.35,167.11 185.80,165.54 186.25,164.69 186.70,160.00 187.15,161.77 187.60,160.54 188.05,162.73 188.50,162.17" fill="none" stroke="#000" stroke-width="0.55" stroke-linejoin="round"/>
<text x="126.7" y="138.6" font-size="8.3" textLength="32" lengthAdjust="spacingAndGlyphs">Se-Se-Se</text>
<text x="119.4" y="169.8" font-size="8.2" text-anchor="end">0</text>
<text x="119.4" y="154.2" font-size="8.2" text-anchor="end">0.01</text>
<text x="119.4" y="138.6" font-size="8.2" text-anchor="end">0.02</text>
<text x="130" y="175.4" font-size="8.2" text-anchor="middle">50</text>
<text x="152.5" y="175.4" font-size="8.2" text-anchor="middle">100</text>
<text x="175" y="175.4" font-size="8.2" text-anchor="middle">150</text>
<rect x="51.8" y="184.5" width="24.7" height="39" fill="#d6eaf2"/>
<path d="M39.5 223.5v-3.1M39.5 184.5v3.1M62.5 223.5v-3.1M62.5 184.5v3.1M84.5 223.5v-3.1M84.5 184.5v3.1M35.5 223.5v-1.8M35.5 184.5v1.8M44.5 223.5v-1.8M44.5 184.5v1.8M48.5 223.5v-1.8M48.5 184.5v1.8M53.5 223.5v-1.8M53.5 184.5v1.8M57.5 223.5v-1.8M57.5 184.5v1.8M66.5 223.5v-1.8M66.5 184.5v1.8M71.5 223.5v-1.8M71.5 184.5v1.8M75.5 223.5v-1.8M75.5 184.5v1.8M80.5 223.5v-1.8M80.5 184.5v1.8M89.5 223.5v-1.8M89.5 184.5v1.8M93.5 223.5v-1.8M93.5 184.5v1.8M30.5 223.5h3.1M98.5 223.5h-3.1M30.5 207.5h3.1M98.5 207.5h-3.1M30.5 192.5h3.1M98.5 192.5h-3.1M30.5 215.5h1.8M98.5 215.5h-1.8M30.5 200.5h1.8M98.5 200.5h-1.8" stroke="#8a8a8a" stroke-width="0.9" fill="none"/>
<rect x="30.5" y="184.5" width="68" height="39" fill="none" stroke="#8a8a8a" stroke-width="1.0"/>
<polyline points="30.50,223.50 30.95,223.50 31.41,223.50 31.86,223.50 32.31,223.50 32.77,223.50 33.22,223.50 33.67,223.50 34.13,223.50 34.58,223.50 35.03,223.50 35.49,223.50 35.94,223.50 36.39,223.50 36.85,223.50 37.30,223.50 37.75,223.50 38.21,223.50 38.66,223.19 39.11,222.35 39.57,221.00 40.02,220.88 40.47,218.84 40.93,216.98 41.38,216.97 41.83,215.05 42.29,212.86 42.74,213.94 43.19,204.34 43.65,202.48 44.10,200.61 44.55,199.02 45.01,200.37 45.46,198.69 45.91,206.77 46.37,208.30 46.82,213.24 47.27,214.16 47.73,215.03 48.18,218.21 48.63,220.01 49.09,220.90 49.54,221.37 49.99,221.77 50.45,221.70 50.90,221.67 51.35,220.96 51.81,221.54 52.26,219.96 52.71,220.22 53.17,219.93 53.62,219.37 54.07,220.07 54.53,219.24 54.98,219.86 55.43,219.17 55.89,219.52 56.34,218.78 56.79,217.52 57.25,218.51 57.70,217.97 58.15,217.23 58.61,216.13 59.06,213.60 59.51,214.90 59.97,217.32 60.42,215.15 60.87,215.93 61.33,214.03 61.78,212.66 62.23,213.57 62.69,212.47 63.14,210.98 63.59,209.65 64.05,211.02 64.50,207.26 64.95,207.43 65.41,211.39 65.86,210.69 66.31,210.18 66.77,207.04 67.22,213.66 67.67,210.95 68.13,207.71 68.58,211.23 69.03,210.73 69.49,211.09 69.94,213.11 70.39,209.26 70.85,210.33 71.30,210.36 71.75,209.16 72.21,208.61 72.66,209.07 73.11,207.87 73.57,209.81 74.02,208.36 74.47,210.39 74.93,211.00 75.38,207.80 75.83,209.96 76.29,210.65 76.74,210.66 77.19,209.76 77.65,209.63 78.10,210.63 78.55,210.83 79.01,209.53 79.46,207.66 79.91,206.63 80.37,211.38 80.82,206.18 81.27,210.01 81.73,207.80 82.18,211.84 82.63,212.34 83.09,209.48 83.54,212.73 83.99,213.22 84.45,212.28 84.90,210.22 85.35,217.39 85.81,217.81 86.26,219.51 86.71,219.55 87.17,219.22 87.62,219.84 88.07,219.08 88.53,217.21 88.98,217.46 89.43,218.25 89.89,217.35 90.34,218.73 90.79,220.14 91.25,219.89 91.70,219.38 92.15,218.62 92.61,221.25 93.06,221.13 93.51,220.27 93.97,220.42 94.42,219.50 94.87,218.88 95.33,220.53 95.78,218.37 96.23,218.79 96.69,217.62 97.14,218.55 97.59,219.27 98.05,219.62 98.50,219.91" fill="none" stroke="#000" stroke-width="0.8" stroke-linejoin="round"/>
<text x="36.4" y="194.8" font-size="8.3" textLength="32.4" lengthAdjust="spacingAndGlyphs">As-As-Se</text>
<text x="28.9" y="225.8" font-size="8.2" text-anchor="end">0</text>
<text x="28.9" y="210.2" font-size="8.2" text-anchor="end">0.01</text>
<text x="28.9" y="194.6" font-size="8.2" text-anchor="end">0.02</text>
<text x="39.57" y="231.4" font-size="8.2" text-anchor="middle">50</text>
<text x="62.23" y="231.4" font-size="8.2" text-anchor="middle">100</text>
<text x="84.9" y="231.4" font-size="8.2" text-anchor="middle">150</text>
<rect x="138.8" y="184.5" width="35.1" height="39" fill="#d6eaf2"/>
<path d="M130.5 223.5v-3.1M130.5 184.5v3.1M152.5 223.5v-3.1M152.5 184.5v3.1M175.5 223.5v-3.1M175.5 184.5v3.1M125.5 223.5v-1.8M125.5 184.5v1.8M134.5 223.5v-1.8M134.5 184.5v1.8M139.5 223.5v-1.8M139.5 184.5v1.8M143.5 223.5v-1.8M143.5 184.5v1.8M148.5 223.5v-1.8M148.5 184.5v1.8M157.5 223.5v-1.8M157.5 184.5v1.8M161.5 223.5v-1.8M161.5 184.5v1.8M166.5 223.5v-1.8M166.5 184.5v1.8M170.5 223.5v-1.8M170.5 184.5v1.8M179.5 223.5v-1.8M179.5 184.5v1.8M184.5 223.5v-1.8M184.5 184.5v1.8M121 223.5h3.1M188.5 223.5h-3.1M121 207.5h3.1M188.5 207.5h-3.1M121 192.5h3.1M188.5 192.5h-3.1M121 215.5h1.8M188.5 215.5h-1.8M121 200.5h1.8M188.5 200.5h-1.8" stroke="#8a8a8a" stroke-width="0.9" fill="none"/>
<rect x="121" y="184.5" width="67.5" height="39" fill="none" stroke="#8a8a8a" stroke-width="1.0"/>
<polyline points="121.00,223.50 121.45,223.50 121.90,223.50 122.35,223.50 122.80,223.50 123.25,223.50 123.70,223.50 124.15,223.50 124.60,223.50 125.05,223.50 125.50,223.50 125.95,223.50 126.40,223.50 126.85,223.50 127.30,223.50 127.75,223.50 128.20,223.50 128.65,223.50 129.10,223.50 129.55,223.36 130.00,223.08 130.45,221.88 130.90,218.69 131.35,216.77 131.80,213.67 132.25,211.61 132.70,206.14 133.15,203.93 133.60,208.01 134.05,203.71 134.50,204.76 134.95,208.02 135.40,205.23 135.85,208.85 136.30,210.33 136.75,210.87 137.20,214.52 137.65,216.43 138.10,218.92 138.55,220.26 139.00,219.51 139.45,220.15 139.90,219.86 140.35,219.88 140.80,219.43 141.25,218.08 141.70,219.28 142.15,219.08 142.60,218.59 143.05,218.31 143.50,219.09 143.95,219.30 144.40,218.20 144.85,217.65 145.30,217.78 145.75,217.60 146.20,217.14 146.65,216.19 147.10,215.48 147.55,216.77 148.00,215.26 148.45,213.94 148.90,214.26 149.35,215.59 149.80,214.13 150.25,213.50 150.70,212.26 151.15,215.31 151.60,211.98 152.05,213.39 152.50,212.26 152.95,211.37 153.40,210.34 153.85,213.24 154.30,208.94 154.75,210.75 155.20,212.69 155.65,214.08 156.10,213.14 156.55,211.74 157.00,210.85 157.45,213.42 157.90,211.19 158.35,213.19 158.80,213.17 159.25,214.32 159.70,213.66 160.15,212.80 160.60,212.98 161.05,211.06 161.50,214.52 161.95,213.92 162.40,211.66 162.85,211.81 163.30,211.30 163.75,212.81 164.20,211.17 164.65,213.70 165.10,213.72 165.55,215.07 166.00,213.09 166.45,214.01 166.90,213.32 167.35,212.83 167.80,213.81 168.25,214.97 168.70,213.59 169.15,213.64 169.60,213.52 170.05,212.69 170.50,213.84 170.95,213.89 171.40,211.25 171.85,212.02 172.30,213.46 172.75,214.49 173.20,213.75 173.65,212.55 174.10,211.85 174.55,209.88 175.00,213.26 175.45,209.94 175.90,214.29 176.35,214.34 176.80,215.05 177.25,215.52 177.70,212.30 178.15,212.88 178.60,211.19 179.05,214.10 179.50,214.01 179.95,214.54 180.40,217.73 180.85,217.28 181.30,215.15 181.75,215.57 182.20,217.32 182.65,215.96 183.10,216.14 183.55,215.45 184.00,213.26 184.45,215.67 184.90,213.02 185.35,215.60 185.80,216.24 186.25,214.02 186.70,214.73 187.15,214.30 187.60,213.74 188.05,212.98 188.50,214.46" fill="none" stroke="#000" stroke-width="0.8" stroke-linejoin="round"/>
<text x="127" y="194.8" font-size="8.3" textLength="32.6" lengthAdjust="spacingAndGlyphs">As-Se-Se</text>
<text x="119.4" y="225.8" font-size="8.2" text-anchor="end">0</text>
<text x="119.4" y="210.2" font-size="8.2" text-anchor="end">0.01</text>
<text x="119.4" y="194.6" font-size="8.2" text-anchor="end">0.02</text>
<text x="130" y="231.4" font-size="8.2" text-anchor="middle">50</text>
<text x="152.5" y="231.4" font-size="8.2" text-anchor="middle">100</text>
<text x="175" y="231.4" font-size="8.2" text-anchor="middle">150</text>
<text x="7.4" y="155.6" font-size="8.6" text-anchor="middle" textLength="31.6" lengthAdjust="spacingAndGlyphs" transform="rotate(-90 7.4 155.6)">fraction</text>
<path d="M41.5 274.5v-3.1M41.5 240.7v3.1M98.5 274.5v-3.1M98.5 240.7v3.1M154.5 274.5v-3.1M154.5 240.7v3.1M30.5 274.5v-1.8M30.5 240.7v1.8M53.5 274.5v-1.8M53.5 240.7v1.8M64.5 274.5v-1.8M64.5 240.7v1.8M75.5 274.5v-1.8M75.5 240.7v1.8M86.5 274.5v-1.8M86.5 240.7v1.8M109.5 274.5v-1.8M109.5 240.7v1.8M120.5 274.5v-1.8M120.5 240.7v1.8M132.5 274.5v-1.8M132.5 240.7v1.8M143.5 274.5v-1.8M143.5 240.7v1.8M165.5 274.5v-1.8M165.5 240.7v1.8M177.5 274.5v-1.8M177.5 240.7v1.8M188.5 274.5v-1.8M188.5 240.7v1.8M30.5 274.5h3.1M188.5 274.5h-3.1M30.5 263.5h3.1M188.5 263.5h-3.1M30.5 251.5h3.1M188.5 251.5h-3.1M30.5 240.5h3.1M188.5 240.5h-3.1M30.5 272.5h1.8M188.5 272.5h-1.8M30.5 269.5h1.8M188.5 269.5h-1.8M30.5 267.5h1.8M188.5 267.5h-1.8M30.5 265.5h1.8M188.5 265.5h-1.8M30.5 260.5h1.8M188.5 260.5h-1.8M30.5 258.5h1.8M188.5 258.5h-1.8M30.5 256.5h1.8M188.5 256.5h-1.8M30.5 254.5h1.8M188.5 254.5h-1.8M30.5 249.5h1.8M188.5 249.5h-1.8M30.5 247.5h1.8M188.5 247.5h-1.8M30.5 245.5h1.8M188.5 245.5h-1.8M30.5 242.5h1.8M188.5 242.5h-1.8" stroke="#8a8a8a" stroke-width="0.9" fill="none"/>
<rect x="30.5" y="240.7" width="158" height="33.8" fill="none" stroke="#8a8a8a" stroke-width="1.0"/>
<polyline points="30.50,274.50 31.63,274.50 32.76,274.50 33.89,274.50 35.01,274.50 36.14,274.50 37.27,274.50 38.40,274.50 39.53,274.14 40.66,273.30 41.79,272.52 42.91,271.62 44.04,270.65 45.17,268.80 46.30,266.64 47.43,263.65 48.56,261.12 49.69,257.53 50.81,254.60 51.94,254.47 53.07,256.66 54.20,255.74 55.33,254.60 56.46,258.16 57.59,262.52 58.71,264.08 59.84,265.49 60.97,267.41 62.10,268.46 63.23,268.25 64.36,269.18 65.49,269.04 66.61,269.38 67.74,269.78 68.87,269.35 70.00,268.21 71.13,267.95 72.26,267.16 73.39,266.94 74.51,267.50 75.64,265.32 76.77,264.58 77.90,263.34 79.03,262.15 80.16,261.16 81.29,260.08 82.41,256.97 83.54,256.41 84.67,256.41 85.80,255.25 86.93,252.79 88.06,252.68 89.19,251.29 90.31,253.73 91.44,252.36 92.57,252.96 93.70,253.64 94.83,249.01 95.96,250.23 97.09,249.51 98.21,241.83 99.34,247.23 100.47,246.16 101.60,249.79 102.73,254.67 103.86,253.89 104.99,252.28 106.11,252.67 107.24,251.28 108.37,253.86 109.50,255.64 110.63,254.82 111.76,255.78 112.89,253.52 114.01,255.24 115.14,256.44 116.27,257.47 117.40,257.26 118.53,259.99 119.66,261.38 120.79,263.42 121.91,259.82 123.04,260.86 124.17,260.75 125.30,260.08 126.43,260.25 127.56,264.46 128.69,262.99 129.81,265.22 130.94,264.72 132.07,259.63 133.20,263.79 134.33,264.01 135.46,263.00 136.59,263.87 137.71,264.58 138.84,262.16 139.97,261.33 141.10,267.51 142.23,263.22 143.36,262.92 144.49,265.41 145.61,264.05 146.74,262.58 147.87,263.51 149.00,265.09 150.13,263.70 151.26,265.13 152.39,264.84 153.51,267.16 154.64,266.88 155.77,266.76 156.90,267.27 158.03,267.40 159.16,267.74 160.29,267.78 161.41,267.37 162.54,267.16 163.67,268.14 164.80,267.88 165.93,268.17 167.06,268.42 168.19,268.43 169.31,269.27 170.44,269.00 171.57,269.73 172.70,269.63 173.83,269.65 174.96,269.61 176.09,269.68 177.21,269.66 178.34,269.62 179.47,269.59 180.60,269.83 181.73,269.57 182.86,269.13 183.99,268.65 185.11,268.26 186.24,267.51 187.37,267.86 188.50,267.74" fill="none" stroke="#000" stroke-width="0.85" stroke-linejoin="round"/>
<text x="162.9" y="253.5" font-size="8.6" textLength="17.8" lengthAdjust="spacingAndGlyphs">total</text>
<text x="28.9" y="276.8" font-size="8.2" text-anchor="end">0</text>
<text x="28.9" y="265.53" font-size="8.2" text-anchor="end">0.005</text>
<text x="28.9" y="254.27" font-size="8.2" text-anchor="end">0.01</text>
<text x="28.9" y="243" font-size="8.2" text-anchor="end">0.015</text>
<text x="41.79" y="283" font-size="8.2" text-anchor="middle">50</text>
<text x="98.21" y="283" font-size="8.2" text-anchor="middle">100</text>
<text x="154.64" y="283" font-size="8.2" text-anchor="middle">150</text>
<text x="109.7" y="293.1" font-size="8.6" text-anchor="middle" textLength="28.5" lengthAdjust="spacingAndGlyphs">θ [deg.]</text>
<path d="M256.5 50.5v-3.1M256.5 5.5v3.1M304.5 50.5v-3.1M304.5 5.5v3.1M353.5 50.5v-3.1M353.5 5.5v3.1M402.5 50.5v-3.1M402.5 5.5v3.1M280.5 50.5v-1.8M280.5 5.5v1.8M329.5 50.5v-1.8M329.5 5.5v1.8M378.5 50.5v-1.8M378.5 5.5v1.8M243.8 50.5h3.1M402.5 50.5h-3.1M243.8 41.5h3.1M402.5 41.5h-3.1M243.8 32.5h3.1M402.5 32.5h-3.1M243.8 23.5h3.1M402.5 23.5h-3.1M243.8 14.5h3.1M402.5 14.5h-3.1M243.8 5.5h3.1M402.5 5.5h-3.1M243.8 46.5h1.8M402.5 46.5h-1.8M243.8 37.5h1.8M402.5 37.5h-1.8M243.8 28.5h1.8M402.5 28.5h-1.8M243.8 19.5h1.8M402.5 19.5h-1.8M243.8 10.5h1.8M402.5 10.5h-1.8" stroke="#8a8a8a" stroke-width="0.9" fill="none"/>
<rect x="243.8" y="5.5" width="158.7" height="45" fill="none" stroke="#8a8a8a" stroke-width="1.0"/>
<polyline points="243.80,50.50 244.33,50.50 244.86,50.50 245.39,50.50 245.92,50.50 246.45,50.50 246.98,50.50 247.52,50.50 248.05,50.50 248.58,50.50 249.11,50.50 249.64,50.50 250.17,50.50 250.70,50.50 251.23,50.50 251.76,50.50 252.29,50.50 252.82,50.50 253.35,50.50 253.88,50.50 254.42,50.50 254.95,50.50 255.48,50.50 256.01,50.50 256.54,50.50 257.07,50.50 257.60,50.50 258.13,50.36 258.66,49.86 259.19,49.10 259.72,48.22 260.25,47.33 260.78,46.58 261.32,45.94 261.85,45.24 262.38,44.53 262.91,43.87 263.44,43.31 263.97,42.92 264.50,42.76 265.03,42.76 265.56,42.76 266.09,42.76 266.62,42.76 267.15,42.76 267.68,42.76 268.22,42.76 268.75,42.84 269.28,43.05 269.81,43.33 270.34,43.63 270.87,43.91 271.40,44.12 271.93,44.34 272.46,44.56 272.99,44.77 273.52,44.94 274.05,45.06 274.58,45.10 275.12,45.09 275.65,45.06 276.18,45.03 276.71,44.98 277.24,44.92 277.77,44.86 278.30,44.78 278.83,44.68 279.36,44.55 279.89,44.40 280.42,44.23 280.95,44.04 281.48,43.84 282.02,43.63 282.55,43.42 283.08,43.21 283.61,42.97 284.14,42.68 284.67,42.36 285.20,42.01 285.73,41.65 286.26,41.28 286.79,40.91 287.32,40.54 287.85,40.19 288.38,39.86 288.92,39.56 289.45,39.30 289.98,39.08 290.51,38.92 291.04,38.82 291.57,38.76 292.10,38.71 292.63,38.66 293.16,38.61 293.69,38.57 294.22,38.53 294.75,38.49 295.28,38.46 295.82,38.43 296.35,38.41 296.88,38.39 297.41,38.37 297.94,38.36 298.47,38.35 299.00,38.35 299.53,38.37 300.06,38.44 300.59,38.54 301.12,38.67 301.65,38.81 302.18,38.97 302.72,39.14 303.25,39.30 303.78,39.45 304.31,39.59 304.84,39.70 305.37,39.80 305.90,39.91 306.43,40.03 306.96,40.17 307.49,40.30 308.02,40.43 308.55,40.54 309.08,40.64 309.62,40.72 310.15,40.79 310.68,40.85 311.21,40.91 311.74,40.97 312.27,41.04 312.80,41.10 313.33,41.17 313.86,41.22 314.39,41.28 314.92,41.32 315.45,41.35 315.98,41.37 316.52,41.37 317.05,41.37 317.58,41.36 318.11,41.36 318.64,41.36 319.17,41.38 319.70,41.41 320.23,41.45 320.76,41.49 321.29,41.53 321.82,41.57 322.35,41.58 322.88,41.57 323.42,41.53 323.95,41.48 324.48,41.42 325.01,41.37 325.54,41.31 326.07,41.26 326.60,41.20 327.13,41.14 327.66,41.07 328.19,41.01 328.72,40.95 329.25,40.89 329.78,40.83 330.32,40.77 330.85,40.71 331.38,40.66 331.91,40.62 332.44,40.58 332.97,40.57 333.50,40.57 334.03,40.58 334.56,40.61 335.09,40.65 335.62,40.70 336.15,40.76 336.68,40.81 337.22,40.86 337.75,40.91 338.28,40.94 338.81,40.98 339.34,41.02 339.87,41.06 340.40,41.10 340.93,41.13 341.46,41.15 341.99,41.15 342.52,41.13 343.05,41.09 343.58,41.04 344.12,40.99 344.65,40.94 345.18,40.89 345.71,40.86 346.24,40.84 346.77,40.84 347.30,40.85 347.83,40.88 348.36,40.93 348.89,40.99 349.42,41.06 349.95,41.15 350.48,41.22 351.02,41.29 351.55,41.33 352.08,41.35 352.61,41.35 353.14,41.34 353.67,41.32 354.20,41.31 354.73,41.31 355.26,41.31 355.79,41.31 356.32,41.30 356.85,41.30 357.38,41.30 357.92,41.31 358.45,41.33 358.98,41.35 359.51,41.37 360.04,41.38 360.57,41.38 361.10,41.36 361.63,41.32 362.16,41.26 362.69,41.20 363.22,41.13 363.75,41.09 364.28,41.06 364.82,41.06 365.35,41.10 365.88,41.17 366.41,41.26 366.94,41.36 367.47,41.46 368.00,41.54 368.53,41.60 369.06,41.64 369.59,41.65 370.12,41.64 370.65,41.61 371.18,41.57 371.72,41.52 372.25,41.47 372.78,41.42 373.31,41.39 373.84,41.38 374.37,41.38 374.90,41.39 375.43,41.40 375.96,41.43 376.49,41.46 377.02,41.49 377.55,41.53 378.08,41.56 378.62,41.60 379.15,41.63 379.68,41.67 380.21,41.70 380.74,41.71 381.27,41.71 381.80,41.69 382.33,41.65 382.86,41.60 383.39,41.54 383.92,41.49 384.45,41.45 384.98,41.44 385.52,41.44 386.05,41.44 386.58,41.45 387.11,41.44 387.64,41.42 388.17,41.39 388.70,41.36 389.23,41.33 389.76,41.32 390.29,41.32 390.82,41.34 391.35,41.36 391.88,41.38 392.42,41.40 392.95,41.40 393.48,41.39 394.01,41.39 394.54,41.39 395.07,41.40 395.60,41.44 396.13,41.48 396.66,41.52 397.19,41.56 397.72,41.58 398.25,41.59 398.78,41.58 399.32,41.57 399.85,41.55 400.38,41.55 400.91,41.57 401.44,41.61 401.97,41.66 402.50,41.72" fill="none" stroke="#bdbdbd" stroke-width="0.7" stroke-linejoin="round"/>
<polyline points="243.80,50.50 244.33,50.50 244.86,50.50 245.39,50.50 245.92,50.50 246.45,50.50 246.98,50.50 247.52,50.50 248.05,50.50 248.58,50.50 249.11,50.50 249.64,50.50 250.17,50.50 250.70,50.50 251.23,50.50 251.76,50.50 252.29,50.50 252.82,50.50 253.35,50.50 253.88,50.50 254.42,50.50 254.95,50.50 255.48,50.50 256.01,50.50 256.54,50.50 257.07,50.50 257.60,50.43 258.13,50.14 258.66,49.69 259.19,49.17 259.72,48.65 260.25,48.04 260.78,47.31 261.32,46.54 261.85,45.85 262.38,45.26 262.91,44.65 263.44,44.10 263.97,43.74 264.50,43.66 265.03,43.67 265.56,43.69 266.09,43.72 266.62,43.75 267.15,43.78 267.68,43.81 268.22,43.83 268.75,43.84 269.28,43.84 269.81,43.81 270.34,43.77 270.87,43.72 271.40,43.65 271.93,43.57 272.46,43.48 272.99,43.38 273.52,43.28 274.05,43.18 274.58,43.07 275.12,42.97 275.65,42.88 276.18,42.77 276.71,42.67 277.24,42.56 277.77,42.44 278.30,42.32 278.83,42.19 279.36,42.06 279.89,41.91 280.42,41.76 280.95,41.60 281.48,41.44 282.02,41.26 282.55,41.08 283.08,40.86 283.61,40.58 284.14,40.24 284.67,39.85 285.20,39.44 285.73,39.00 286.26,38.55 286.79,38.09 287.32,37.65 287.85,37.23 288.38,36.84 288.92,36.49 289.45,36.20 289.98,35.97 290.51,35.81 291.04,35.74 291.57,35.74 292.10,35.76 292.63,35.79 293.16,35.83 293.69,35.88 294.22,35.94 294.75,36.02 295.28,36.09 295.82,36.18 296.35,36.28 296.88,36.38 297.41,36.48 297.94,36.59 298.47,36.71 299.00,36.82 299.53,36.97 300.06,37.17 300.59,37.41 301.12,37.69 301.65,37.99 302.18,38.30 302.72,38.62 303.25,38.94 303.78,39.24 304.31,39.53 304.84,39.79 305.37,40.03 305.90,40.28 306.43,40.52 306.96,40.77 307.49,41.01 308.02,41.26 308.55,41.50 309.08,41.74 309.62,41.98 310.15,42.21 310.68,42.44 311.21,42.67 311.74,42.89 312.27,43.10 312.80,43.29 313.33,43.44 313.86,43.54 314.39,43.61 314.92,43.66 315.45,43.70 315.98,43.74 316.52,43.80 317.05,43.88 317.58,43.97 318.11,44.07 318.64,44.17 319.17,44.26 319.70,44.34 320.23,44.40 320.76,44.44 321.29,44.48 321.82,44.49 322.35,44.48 322.88,44.45 323.42,44.40 323.95,44.33 324.48,44.16 325.01,43.92 325.54,43.64 326.07,43.33 326.60,43.02 327.13,42.72 327.66,42.42 328.19,42.14 328.72,41.88 329.25,41.66 329.78,41.45 330.32,41.22 330.85,41.00 331.38,40.79 331.91,40.61 332.44,40.45 332.97,40.32 333.50,40.20 334.03,40.11 334.56,40.03 335.09,39.99 335.62,39.98 336.15,40.00 336.68,40.06 337.22,40.14 337.75,40.23 338.28,40.31 338.81,40.38 339.34,40.43 339.87,40.46 340.40,40.45 340.93,40.42 341.46,40.36 341.99,40.29 342.52,40.21 343.05,40.14 343.58,40.09 344.12,40.05 344.65,40.03 345.18,40.01 345.71,40.02 346.24,40.03 346.77,40.07 347.30,40.13 347.83,40.19 348.36,40.25 348.89,40.30 349.42,40.34 349.95,40.35 350.48,40.35 351.02,40.35 351.55,40.34 352.08,40.33 352.61,40.32 353.14,40.33 353.67,40.35 354.20,40.40 354.73,40.48 355.26,40.59 355.79,40.73 356.32,40.90 356.85,41.07 357.38,41.24 357.92,41.39 358.45,41.52 358.98,41.63 359.51,41.70 360.04,41.75 360.57,41.77 361.10,41.76 361.63,41.73 362.16,41.68 362.69,41.62 363.22,41.55 363.75,41.47 364.28,41.40 364.82,41.34 365.35,41.28 365.88,41.25 366.41,41.22 366.94,41.21 367.47,41.23 368.00,41.26 368.53,41.33 369.06,41.43 369.59,41.55 370.12,41.69 370.65,41.83 371.18,41.94 371.72,42.03 372.25,42.09 372.78,42.11 373.31,42.12 373.84,42.11 374.37,42.10 374.90,42.07 375.43,42.03 375.96,41.97 376.49,41.90 377.02,41.82 377.55,41.75 378.08,41.70 378.62,41.68 379.15,41.67 379.68,41.66 380.21,41.65 380.74,41.63 381.27,41.59 381.80,41.54 382.33,41.48 382.86,41.43 383.39,41.38 383.92,41.36 384.45,41.35 384.98,41.36 385.52,41.39 386.05,41.44 386.58,41.50 387.11,41.58 387.64,41.68 388.17,41.78 388.70,41.89 389.23,42.01 389.76,42.12 390.29,42.21 390.82,42.28 391.35,42.31 391.88,42.29 392.42,42.25 392.95,42.19 393.48,42.12 394.01,42.06 394.54,42.02 395.07,42.00 395.60,42.00 396.13,42.00 396.66,42.00 397.19,41.98 397.72,41.94 398.25,41.89 398.78,41.82 399.32,41.74 399.85,41.65 400.38,41.57 400.91,41.49 401.44,41.43 401.97,41.40 402.50,41.40" fill="none" stroke="#5a8df2" stroke-width="0.7" stroke-linejoin="round"/>
<polyline points="243.80,50.50 244.33,50.50 244.86,50.50 245.39,50.50 245.92,50.50 246.45,50.50 246.98,50.50 247.52,50.50 248.05,50.50 248.58,50.50 249.11,50.50 249.64,50.50 250.17,50.50 250.70,50.50 251.23,50.50 251.76,50.50 252.29,50.50 252.82,50.50 253.35,50.50 253.88,50.50 254.42,50.50 254.95,50.50 255.48,50.50 256.01,50.37 256.54,49.53 257.07,48.46 257.60,47.03 258.13,45.31 258.66,43.37 259.19,40.98 259.72,38.72 260.25,36.50 260.78,34.31 261.32,32.17 261.85,29.96 262.38,27.80 262.91,25.87 263.44,24.25 263.97,22.85 264.50,21.99 265.03,21.40 265.56,21.16 266.09,21.31 266.62,21.62 267.15,22.07 267.68,22.80 268.22,23.68 268.75,24.74 269.28,26.03 269.81,27.46 270.34,28.94 270.87,30.63 271.40,32.31 271.93,33.68 272.46,34.91 272.99,36.02 273.52,37.02 274.05,37.90 274.58,38.71 275.12,39.42 275.65,39.98 276.18,40.50 276.71,40.96 277.24,41.26 277.77,41.35 278.30,41.40 278.83,41.45 279.36,41.48 279.89,41.49 280.42,41.50 280.95,41.49 281.48,41.47 282.02,41.44 282.55,41.39 283.08,41.33 283.61,41.27 284.14,41.20 284.67,41.12 285.20,41.04 285.73,40.96 286.26,40.88 286.79,40.80 287.32,40.72 287.85,40.64 288.38,40.55 288.92,40.45 289.45,40.35 289.98,40.24 290.51,40.13 291.04,40.01 291.57,39.91 292.10,39.80 292.63,39.70 293.16,39.60 293.69,39.49 294.22,39.37 294.75,39.25 295.28,39.13 295.82,39.01 296.35,38.91 296.88,38.81 297.41,38.73 297.94,38.67 298.47,38.63 299.00,38.62 299.53,38.64 300.06,38.70 300.59,38.80 301.12,38.91 301.65,39.04 302.18,39.18 302.72,39.33 303.25,39.47 303.78,39.60 304.31,39.71 304.84,39.79 305.37,39.85 305.90,39.90 306.43,39.94 306.96,39.98 307.49,40.01 308.02,40.04 308.55,40.08 309.08,40.12 309.62,40.17 310.15,40.23 310.68,40.30 311.21,40.37 311.74,40.44 312.27,40.51 312.80,40.58 313.33,40.66 313.86,40.73 314.39,40.81 314.92,40.88 315.45,40.95 315.98,41.01 316.52,41.06 317.05,41.10 317.58,41.13 318.11,41.16 318.64,41.20 319.17,41.25 319.70,41.31 320.23,41.38 320.76,41.47 321.29,41.55 321.82,41.63 322.35,41.71 322.88,41.77 323.42,41.82 323.95,41.84 324.48,41.78 325.01,41.67 325.54,41.50 326.07,41.29 326.60,41.06 327.13,40.83 327.66,40.62 328.19,40.44 328.72,40.33 329.25,40.29 329.78,40.31 330.32,40.35 330.85,40.41 331.38,40.50 331.91,40.60 332.44,40.73 332.97,40.86 333.50,41.01 334.03,41.15 334.56,41.28 335.09,41.40 335.62,41.50 336.15,41.59 336.68,41.67 337.22,41.74 337.75,41.80 338.28,41.86 338.81,41.91 339.34,41.96 339.87,42.01 340.40,42.05 340.93,42.09 341.46,42.12 341.99,42.13 342.52,42.11 343.05,42.06 343.58,41.98 344.12,41.87 344.65,41.76 345.18,41.66 345.71,41.57 346.24,41.49 346.77,41.42 347.30,41.35 347.83,41.28 348.36,41.19 348.89,41.10 349.42,41.01 349.95,40.91 350.48,40.83 351.02,40.75 351.55,40.68 352.08,40.61 352.61,40.57 353.14,40.53 353.67,40.51 354.20,40.51 354.73,40.51 355.26,40.54 355.79,40.58 356.32,40.65 356.85,40.74 357.38,40.85 357.92,40.97 358.45,41.08 358.98,41.17 359.51,41.25 360.04,41.30 360.57,41.32 361.10,41.32 361.63,41.30 362.16,41.27 362.69,41.21 363.22,41.16 363.75,41.10 364.28,41.04 364.82,41.00 365.35,40.96 365.88,40.94 366.41,40.92 366.94,40.91 367.47,40.91 368.00,40.93 368.53,40.97 369.06,41.01 369.59,41.05 370.12,41.08 370.65,41.10 371.18,41.11 371.72,41.11 372.25,41.10 372.78,41.08 373.31,41.04 373.84,40.98 374.37,40.88 374.90,40.76 375.43,40.63 375.96,40.50 376.49,40.39 377.02,40.31 377.55,40.27 378.08,40.26 378.62,40.26 379.15,40.26 379.68,40.26 380.21,40.26 380.74,40.26 381.27,40.26 381.80,40.29 382.33,40.32 382.86,40.37 383.39,40.42 383.92,40.46 384.45,40.50 384.98,40.54 385.52,40.58 386.05,40.64 386.58,40.72 387.11,40.80 387.64,40.89 388.17,40.95 388.70,40.99 389.23,40.98 389.76,40.95 390.29,40.91 390.82,40.87 391.35,40.86 391.88,40.89 392.42,40.95 392.95,41.01 393.48,41.08 394.01,41.12 394.54,41.13 395.07,41.11 395.60,41.07 396.13,41.01 396.66,40.95 397.19,40.88 397.72,40.80 398.25,40.72 398.78,40.64 399.32,40.56 399.85,40.50 400.38,40.46 400.91,40.44 401.44,40.44 401.97,40.46 402.50,40.48" fill="none" stroke="#f04c48" stroke-width="0.7" stroke-linejoin="round"/>
<polyline points="243.80,50.50 244.33,50.50 244.86,50.50 245.39,50.50 245.92,50.50 246.45,50.50 246.98,50.50 247.52,50.50 248.05,50.50 248.58,50.50 249.11,50.50 249.64,50.50 250.17,50.50 250.70,50.50 251.23,50.50 251.76,50.50 252.29,50.50 252.82,50.50 253.35,50.50 253.88,50.50 254.42,50.50 254.95,50.50 255.48,50.50 256.01,50.50 256.54,50.50 257.07,50.43 257.60,50.13 258.13,49.49 258.66,48.16 259.19,46.41 259.72,44.53 260.25,42.81 260.78,41.37 261.32,39.90 261.85,38.47 262.38,37.16 262.91,36.06 263.44,35.14 263.97,34.24 264.50,33.44 265.03,32.88 265.56,32.68 266.09,32.77 266.62,32.98 267.15,33.30 267.68,33.68 268.22,34.10 268.75,34.57 269.28,35.27 269.81,36.10 270.34,36.95 270.87,37.68 271.40,38.31 271.93,38.93 272.46,39.50 272.99,39.99 273.52,40.38 274.05,40.68 274.58,40.96 275.12,41.19 275.65,41.37 276.18,41.49 276.71,41.55 277.24,41.60 277.77,41.65 278.30,41.69 278.83,41.73 279.36,41.75 279.89,41.76 280.42,41.77 280.95,41.74 281.48,41.67 282.02,41.56 282.55,41.42 283.08,41.25 283.61,41.05 284.14,40.84 284.67,40.63 285.20,40.41 285.73,40.19 286.26,39.99 286.79,39.80 287.32,39.63 287.85,39.49 288.38,39.37 288.92,39.24 289.45,39.12 289.98,39.01 290.51,38.89 291.04,38.79 291.57,38.69 292.10,38.61 292.63,38.53 293.16,38.46 293.69,38.38 294.22,38.31 294.75,38.24 295.28,38.17 295.82,38.11 296.35,38.05 296.88,38.00 297.41,37.96 297.94,37.93 298.47,37.91 299.00,37.90 299.53,37.93 300.06,38.02 300.59,38.15 301.12,38.32 301.65,38.52 302.18,38.74 302.72,38.96 303.25,39.19 303.78,39.41 304.31,39.61 304.84,39.79 305.37,39.96 305.90,40.14 306.43,40.34 306.96,40.53 307.49,40.73 308.02,40.92 308.55,41.12 309.08,41.31 309.62,41.49 310.15,41.67 310.68,41.82 311.21,41.96 311.74,42.08 312.27,42.18 312.80,42.26 313.33,42.33 313.86,42.39 314.39,42.47 314.92,42.56 315.45,42.65 315.98,42.75 316.52,42.83 317.05,42.89 317.58,42.91 318.11,42.89 318.64,42.84 319.17,42.76 319.70,42.66 320.23,42.56 320.76,42.46 321.29,42.38 321.82,42.34 322.35,42.34 322.88,42.36 323.42,42.41 323.95,42.44 324.48,42.39 325.01,42.25 325.54,42.04 326.07,41.79 326.60,41.51 327.13,41.23 327.66,40.97 328.19,40.77 328.72,40.63 329.25,40.59 329.78,40.61 330.32,40.65 330.85,40.69 331.38,40.74 331.91,40.79 332.44,40.83 332.97,40.86 333.50,40.86 334.03,40.83 334.56,40.79 335.09,40.75 335.62,40.71 336.15,40.69 336.68,40.70 337.22,40.74 337.75,40.79 338.28,40.84 338.81,40.88 339.34,40.90 339.87,40.90 340.40,40.89 340.93,40.86 341.46,40.82 341.99,40.78 342.52,40.73 343.05,40.67 343.58,40.61 344.12,40.54 344.65,40.48 345.18,40.42 345.71,40.38 346.24,40.37 346.77,40.40 347.30,40.45 347.83,40.55 348.36,40.66 348.89,40.78 349.42,40.90 349.95,41.00 350.48,41.08 351.02,41.12 351.55,41.15 352.08,41.16 352.61,41.16 353.14,41.17 353.67,41.18 354.20,41.19 354.73,41.22 355.26,41.26 355.79,41.29 356.32,41.33 356.85,41.36 357.38,41.38 357.92,41.38 358.45,41.35 358.98,41.30 359.51,41.23 360.04,41.13 360.57,41.03 361.10,40.92 361.63,40.81 362.16,40.70 362.69,40.62 363.22,40.57 363.75,40.55 364.28,40.57 364.82,40.62 365.35,40.70 365.88,40.81 366.41,40.91 366.94,41.01 367.47,41.08 368.00,41.14 368.53,41.17 369.06,41.18 369.59,41.18 370.12,41.18 370.65,41.17 371.18,41.14 371.72,41.10 372.25,41.03 372.78,40.94 373.31,40.84 373.84,40.75 374.37,40.68 374.90,40.64 375.43,40.64 375.96,40.67 376.49,40.72 377.02,40.77 377.55,40.82 378.08,40.84 378.62,40.85 379.15,40.84 379.68,40.83 380.21,40.82 380.74,40.81 381.27,40.81 381.80,40.81 382.33,40.82 382.86,40.83 383.39,40.84 383.92,40.85 384.45,40.86 384.98,40.87 385.52,40.87 386.05,40.86 386.58,40.84 387.11,40.80 387.64,40.75 388.17,40.71 388.70,40.66 389.23,40.64 389.76,40.62 390.29,40.63 390.82,40.65 391.35,40.67 391.88,40.70 392.42,40.72 392.95,40.74 393.48,40.76 394.01,40.78 394.54,40.81 395.07,40.85 395.60,40.92 396.13,41.00 396.66,41.09 397.19,41.17 397.72,41.24 398.25,41.29 398.78,41.30 399.32,41.28 399.85,41.25 400.38,41.23 400.91,41.22 401.44,41.24 401.97,41.27 402.50,41.30" fill="none" stroke="#111" stroke-width="0.7" stroke-linejoin="round"/>
<text x="280.3" y="17.8" font-size="8.2" textLength="38.6" lengthAdjust="spacingAndGlyphs">(b) 1473 K</text>
<line x1="363.2" y1="11.5" x2="379.2" y2="11.5" stroke="#3a3a3a" stroke-width="0.9"/>
<text x="381.2" y="14.6" font-size="8.0" textLength="15.2" lengthAdjust="spacingAndGlyphs">total</text>
<line x1="363.2" y1="19.5" x2="379.2" y2="19.5" stroke="#bdbdbd" stroke-width="0.9"/>
<text x="381.2" y="22.6" font-size="8.0" textLength="18" lengthAdjust="spacingAndGlyphs">As-As</text>
<line x1="363.2" y1="27.5" x2="379.2" y2="27.5" stroke="#f26a66" stroke-width="0.9"/>
<text x="381.2" y="30.6" font-size="8.0" textLength="17.6" lengthAdjust="spacingAndGlyphs">As-Se</text>
<line x1="363.2" y1="35.5" x2="379.2" y2="35.5" stroke="#6f9bf5" stroke-width="0.9"/>
<text x="381.2" y="38.6" font-size="8.0" textLength="17.4" lengthAdjust="spacingAndGlyphs">Se-Se</text>
<text x="242.7" y="53.4" font-size="8.2" text-anchor="end">0</text>
<text x="242.7" y="44.4" font-size="8.2" text-anchor="end">1</text>
<text x="242.7" y="35.4" font-size="8.2" text-anchor="end">2</text>
<text x="242.7" y="26.4" font-size="8.2" text-anchor="end">3</text>
<text x="242.7" y="17.4" font-size="8.2" text-anchor="end">4</text>
<text x="242.7" y="8.4" font-size="8.2" text-anchor="end">5</text>
<text x="256.01" y="58.7" font-size="8.2" text-anchor="middle">0.2</text>
<text x="304.84" y="58.7" font-size="8.2" text-anchor="middle">0.4</text>
<text x="353.67" y="58.7" font-size="8.2" text-anchor="middle">0.6</text>
<text x="402.5" y="58.7" font-size="8.2" text-anchor="middle">0.8</text>
<text x="229" y="27" font-size="8.6" text-anchor="middle" transform="rotate(-90 229 27)">g(r)</text>
<text x="326.7" y="66.6" font-size="8.4" text-anchor="middle" textLength="23.4" lengthAdjust="spacingAndGlyphs">r [nm]</text>
<rect x="275.2" y="73.5" width="9.4" height="39" fill="#d6eaf2"/>
<path d="M252.5 112.5v-3.1M252.5 73.5v3.1M275.5 112.5v-3.1M275.5 73.5v3.1M297.5 112.5v-3.1M297.5 73.5v3.1M248.5 112.5v-1.8M248.5 73.5v1.8M257.5 112.5v-1.8M257.5 73.5v1.8M261.5 112.5v-1.8M261.5 73.5v1.8M266.5 112.5v-1.8M266.5 73.5v1.8M270.5 112.5v-1.8M270.5 73.5v1.8M279.5 112.5v-1.8M279.5 73.5v1.8M284.5 112.5v-1.8M284.5 73.5v1.8M288.5 112.5v-1.8M288.5 73.5v1.8M293.5 112.5v-1.8M293.5 73.5v1.8M302.5 112.5v-1.8M302.5 73.5v1.8M306.5 112.5v-1.8M306.5 73.5v1.8M243.5 112.5h3.1M311.5 112.5h-3.1M243.5 96.5h3.1M311.5 96.5h-3.1M243.5 81.5h3.1M311.5 81.5h-3.1M243.5 104.5h1.8M311.5 104.5h-1.8M243.5 89.5h1.8M311.5 89.5h-1.8" stroke="#8a8a8a" stroke-width="0.9" fill="none"/>
<rect x="243.5" y="73.5" width="68" height="39" fill="none" stroke="#8a8a8a" stroke-width="1.0"/>
<path d="M243.5 112.5L256.18 112.5L256.4 102.98L256.62 112.5L259.88 112.5L260.1 102.98L260.32 112.5L262.98 112.5L263.2 103.53L263.42 112.5L264.68 112.5L264.9 102.98L265.12 112.5L266.38 112.5L266.6 92.69L266.82 112.5L268.08 112.5L268.3 93.78L268.52 112.5L269.88 112.5L270.1 84.97L270.32 112.5L271.08 112.5L271.3 94.56L271.52 112.5L272.78 112.5L273 92.69L273.22 112.5L274.48 112.5L274.7 94.56L274.92 112.5L275.68 112.5L275.9 92.69L276.12 112.5L277.88 112.5L278.1 77.4L278.32 112.5L279.08 112.5L279.3 91.21L279.52 112.5L280.78 112.5L281 93.78L281.22 112.5L282.48 112.5L282.7 102.98L282.92 112.5L283.88 112.5L284.1 101.35L284.32 112.5L285.58 112.5L285.8 102.36L286.02 112.5L287.68 112.5L287.9 92.69L288.12 112.5L289.38 112.5L289.6 102.98L289.82 112.5L291.58 112.5L291.8 102.98L292.02 112.5L293.78 112.5L294 102.98L294.22 112.5L295.88 112.5L296.1 103.53L296.32 112.5L311.5 112.5" fill="none" stroke="#000" stroke-width="0.7" stroke-linejoin="round"/>
<text x="248" y="81.8" font-size="8.3" textLength="32.6" lengthAdjust="spacingAndGlyphs">As-As-As</text>
<text x="241.9" y="114.8" font-size="8.2" text-anchor="end">0</text>
<text x="241.9" y="99.2" font-size="8.2" text-anchor="end">0.02</text>
<text x="241.9" y="83.6" font-size="8.2" text-anchor="end">0.04</text>
<text x="252.57" y="120.4" font-size="8.2" text-anchor="middle">50</text>
<text x="275.23" y="120.4" font-size="8.2" text-anchor="middle">100</text>
<text x="297.9" y="120.4" font-size="8.2" text-anchor="middle">150</text>
<rect x="352.7" y="73.5" width="35.7" height="39" fill="#d6eaf2"/>
<path d="M343.5 112.5v-3.1M343.5 73.5v3.1M365.5 112.5v-3.1M365.5 73.5v3.1M388.5 112.5v-3.1M388.5 73.5v3.1M338.5 112.5v-1.8M338.5 73.5v1.8M347.5 112.5v-1.8M347.5 73.5v1.8M352.5 112.5v-1.8M352.5 73.5v1.8M356.5 112.5v-1.8M356.5 73.5v1.8M361.5 112.5v-1.8M361.5 73.5v1.8M370.5 112.5v-1.8M370.5 73.5v1.8M374.5 112.5v-1.8M374.5 73.5v1.8M379.5 112.5v-1.8M379.5 73.5v1.8M383.5 112.5v-1.8M383.5 73.5v1.8M392.5 112.5v-1.8M392.5 73.5v1.8M397.5 112.5v-1.8M397.5 73.5v1.8M334.5 112.5h3.1M401.5 112.5h-3.1M334.5 96.5h3.1M401.5 96.5h-3.1M334.5 81.5h3.1M401.5 81.5h-3.1M334.5 104.5h1.8M401.5 104.5h-1.8M334.5 89.5h1.8M401.5 89.5h-1.8" stroke="#8a8a8a" stroke-width="0.9" fill="none"/>
<rect x="334.5" y="73.5" width="67" height="39" fill="none" stroke="#8a8a8a" stroke-width="1.0"/>
<polyline points="334.50,112.50 334.95,112.50 335.39,112.50 335.84,112.50 336.29,112.50 336.73,112.50 337.18,112.50 337.63,112.50 338.07,112.50 338.52,112.50 338.97,112.50 339.41,112.50 339.86,112.50 340.31,112.50 340.75,112.50 341.20,112.50 341.65,112.50 342.09,111.65 342.54,110.72 342.99,110.76 343.43,110.36 343.88,109.68 344.33,109.39 344.77,108.46 345.22,106.15 345.67,106.82 346.11,102.34 346.56,103.63 347.01,105.82 347.45,105.96 347.90,104.36 348.35,107.40 348.79,105.02 349.24,104.98 349.69,104.67 350.13,104.22 350.58,102.35 351.03,104.02 351.47,101.12 351.92,102.34 352.37,102.52 352.81,103.75 353.26,102.39 353.71,104.92 354.15,102.82 354.60,101.94 355.05,104.11 355.49,104.08 355.94,103.29 356.39,101.54 356.83,100.10 357.28,96.12 357.73,95.17 358.17,94.81 358.62,97.19 359.07,98.30 359.51,96.22 359.96,94.89 360.41,92.95 360.85,97.47 361.30,97.07 361.75,96.79 362.19,102.01 362.64,96.08 363.09,94.67 363.53,91.47 363.98,97.81 364.43,94.26 364.87,92.65 365.32,88.36 365.77,90.24 366.21,91.36 366.66,88.27 367.11,97.15 367.55,94.55 368.00,97.67 368.45,94.29 368.89,91.42 369.34,92.00 369.79,92.80 370.23,95.56 370.68,93.27 371.13,96.95 371.57,99.71 372.02,96.65 372.47,97.42 372.91,102.19 373.36,100.03 373.81,104.17 374.25,101.24 374.70,98.69 375.15,102.63 375.59,99.73 376.04,102.05 376.49,104.00 376.93,105.92 377.38,102.63 377.83,103.24 378.27,106.53 378.72,105.68 379.17,104.46 379.61,106.84 380.06,105.89 380.51,106.84 380.95,107.46 381.40,106.02 381.85,107.88 382.29,108.16 382.74,108.13 383.19,107.19 383.63,108.26 384.08,106.86 384.53,106.16 384.97,103.56 385.42,106.96 385.87,105.00 386.31,106.03 386.76,106.89 387.21,106.39 387.65,105.74 388.10,106.01 388.55,106.85 388.99,107.75 389.44,105.98 389.89,106.77 390.33,108.25 390.78,108.44 391.23,107.77 391.67,109.74 392.12,109.35 392.57,110.07 393.01,109.41 393.46,109.59 393.91,109.78 394.35,110.61 394.80,110.70 395.25,110.73 395.69,111.12 396.14,111.34 396.59,111.58 397.03,111.79 397.48,111.90 397.93,112.10 398.37,112.28 398.82,112.29 399.27,112.37 399.71,112.39 400.16,112.44 400.61,112.47 401.05,112.49 401.50,112.50" fill="none" stroke="#000" stroke-width="0.8" stroke-linejoin="round"/>
<text x="340.1" y="81.9" font-size="8.3" textLength="32.3" lengthAdjust="spacingAndGlyphs">As-Se-As</text>
<text x="332.9" y="114.8" font-size="8.2" text-anchor="end">0</text>
<text x="332.9" y="99.2" font-size="8.2" text-anchor="end">0.01</text>
<text x="332.9" y="83.6" font-size="8.2" text-anchor="end">0.02</text>
<text x="343.43" y="120.4" font-size="8.2" text-anchor="middle">50</text>
<text x="365.77" y="120.4" font-size="8.2" text-anchor="middle">100</text>
<text x="388.1" y="120.4" font-size="8.2" text-anchor="middle">150</text>
<rect x="266.8" y="129.5" width="18.3" height="39" fill="#d6eaf2"/>
<path d="M252.5 168.5v-3.1M252.5 129.5v3.1M275.5 168.5v-3.1M275.5 129.5v3.1M297.5 168.5v-3.1M297.5 129.5v3.1M248.5 168.5v-1.8M248.5 129.5v1.8M257.5 168.5v-1.8M257.5 129.5v1.8M261.5 168.5v-1.8M261.5 129.5v1.8M266.5 168.5v-1.8M266.5 129.5v1.8M270.5 168.5v-1.8M270.5 129.5v1.8M279.5 168.5v-1.8M279.5 129.5v1.8M284.5 168.5v-1.8M284.5 129.5v1.8M288.5 168.5v-1.8M288.5 129.5v1.8M293.5 168.5v-1.8M293.5 129.5v1.8M302.5 168.5v-1.8M302.5 129.5v1.8M306.5 168.5v-1.8M306.5 129.5v1.8M243.5 168.5h3.1M311.5 168.5h-3.1M243.5 152.5h3.1M311.5 152.5h-3.1M243.5 137.5h3.1M311.5 137.5h-3.1M243.5 160.5h1.8M311.5 160.5h-1.8M243.5 145.5h1.8M311.5 145.5h-1.8" stroke="#8a8a8a" stroke-width="0.9" fill="none"/>
<rect x="243.5" y="129.5" width="68" height="39" fill="none" stroke="#8a8a8a" stroke-width="1.0"/>
<polyline points="243.50,168.50 243.95,168.50 244.41,168.50 244.86,168.50 245.31,168.50 245.77,168.50 246.22,168.50 246.67,168.50 247.13,168.50 247.58,168.50 248.03,168.50 248.49,168.50 248.94,168.50 249.39,168.50 249.85,168.50 250.30,168.50 250.75,168.50 251.21,168.50 251.66,168.50 252.11,168.30 252.57,167.82 253.02,167.35 253.47,167.12 253.93,166.09 254.38,165.81 254.83,164.82 255.29,164.27 255.74,162.71 256.19,163.70 256.65,164.28 257.10,162.92 257.55,163.54 258.01,161.13 258.46,161.66 258.91,160.66 259.37,161.96 259.82,162.27 260.27,160.84 260.73,162.11 261.18,161.48 261.63,160.99 262.09,160.04 262.54,161.15 262.99,161.36 263.45,156.61 263.90,158.42 264.35,157.30 264.81,155.57 265.26,155.24 265.71,156.46 266.17,155.68 266.62,151.67 267.07,151.63 267.53,151.82 267.98,145.24 268.43,155.49 268.89,150.46 269.34,150.46 269.79,153.42 270.25,146.62 270.70,144.53 271.15,145.03 271.61,150.92 272.06,147.05 272.51,146.44 272.97,148.09 273.42,147.30 273.87,147.34 274.33,145.77 274.78,149.16 275.23,145.64 275.69,150.44 276.14,150.97 276.59,150.71 277.05,153.07 277.50,154.16 277.95,151.98 278.41,158.24 278.86,155.35 279.31,152.29 279.77,154.86 280.22,155.62 280.67,156.42 281.13,156.88 281.58,158.92 282.03,158.45 282.49,159.79 282.94,157.76 283.39,159.06 283.85,160.22 284.30,160.77 284.75,161.76 285.21,162.87 285.66,160.84 286.11,161.82 286.57,162.57 287.02,162.13 287.47,161.76 287.93,161.23 288.38,162.48 288.83,162.56 289.29,163.49 289.74,162.80 290.19,163.30 290.65,163.50 291.10,164.80 291.55,163.82 292.01,163.86 292.46,163.84 292.91,165.43 293.37,165.28 293.82,164.22 294.27,164.85 294.73,164.20 295.18,164.45 295.63,163.98 296.09,164.69 296.54,164.93 296.99,164.11 297.45,164.49 297.90,164.92 298.35,165.30 298.81,163.16 299.26,163.74 299.71,164.30 300.17,165.18 300.62,164.63 301.07,164.11 301.53,163.76 301.98,163.41 302.43,164.21 302.89,163.42 303.34,162.97 303.79,163.94 304.25,162.47 304.70,165.00 305.15,163.61 305.61,165.44 306.06,164.98 306.51,165.69 306.97,165.38 307.42,165.93 307.87,165.69 308.33,165.64 308.78,165.57 309.23,165.86 309.69,164.67 310.14,165.26 310.59,165.96 311.05,165.50 311.50,165.79" fill="none" stroke="#000" stroke-width="0.8" stroke-linejoin="round"/>
<text x="249.7" y="139.8" font-size="8.3" textLength="32.2" lengthAdjust="spacingAndGlyphs">Se-As-Se</text>
<text x="241.9" y="170.8" font-size="8.2" text-anchor="end">0</text>
<text x="241.9" y="155.2" font-size="8.2" text-anchor="end">0.01</text>
<text x="241.9" y="139.6" font-size="8.2" text-anchor="end">0.02</text>
<text x="252.57" y="176.4" font-size="8.2" text-anchor="middle">50</text>
<text x="275.23" y="176.4" font-size="8.2" text-anchor="middle">100</text>
<text x="297.9" y="176.4" font-size="8.2" text-anchor="middle">150</text>
<rect x="352.7" y="129.5" width="35.3" height="39" fill="#d6eaf2"/>
<path d="M343.5 168.5v-3.1M343.5 129.5v3.1M365.5 168.5v-3.1M365.5 129.5v3.1M388.5 168.5v-3.1M388.5 129.5v3.1M338.5 168.5v-1.8M338.5 129.5v1.8M347.5 168.5v-1.8M347.5 129.5v1.8M352.5 168.5v-1.8M352.5 129.5v1.8M356.5 168.5v-1.8M356.5 129.5v1.8M361.5 168.5v-1.8M361.5 129.5v1.8M370.5 168.5v-1.8M370.5 129.5v1.8M374.5 168.5v-1.8M374.5 129.5v1.8M379.5 168.5v-1.8M379.5 129.5v1.8M383.5 168.5v-1.8M383.5 129.5v1.8M392.5 168.5v-1.8M392.5 129.5v1.8M397.5 168.5v-1.8M397.5 129.5v1.8M334.5 168.5h3.1M401.5 168.5h-3.1M334.5 152.5h3.1M401.5 152.5h-3.1M334.5 137.5h3.1M401.5 137.5h-3.1M334.5 160.5h1.8M401.5 160.5h-1.8M334.5 145.5h1.8M401.5 145.5h-1.8" stroke="#8a8a8a" stroke-width="0.9" fill="none"/>
<rect x="334.5" y="129.5" width="67" height="39" fill="none" stroke="#8a8a8a" stroke-width="1.0"/>
<polyline points="334.50,168.50 334.95,168.50 335.39,168.50 335.84,168.50 336.29,168.50 336.73,168.50 337.18,168.50 337.63,168.50 338.07,168.50 338.52,168.50 338.97,168.50 339.41,168.50 339.86,168.50 340.31,168.50 340.75,168.50 341.20,168.50 341.65,168.50 342.09,168.50 342.54,167.74 342.99,165.80 343.43,166.74 343.88,161.93 344.33,156.23 344.77,161.38 345.22,153.40 345.67,162.25 346.11,157.66 346.56,151.30 347.01,141.64 347.45,149.02 347.90,162.72 348.35,165.84 348.79,161.34 349.24,149.86 349.69,150.54 350.13,148.13 350.58,150.80 351.03,159.35 351.47,155.72 351.92,161.50 352.37,149.86 352.81,164.01 353.26,155.06 353.71,149.88 354.15,143.30 354.60,160.66 355.05,149.62 355.49,162.26 355.94,148.55 356.39,157.95 356.83,154.06 357.28,161.93 357.73,159.63 358.17,159.94 358.62,159.74 359.07,148.08 359.51,162.34 359.96,154.37 360.41,150.64 360.85,163.42 361.30,168.50 361.75,153.39 362.19,166.77 362.64,161.40 363.09,157.34 363.53,155.23 363.98,156.82 364.43,161.29 364.87,151.50 365.32,156.09 365.77,146.49 366.21,159.37 366.66,156.41 367.11,157.91 367.55,154.71 368.00,156.49 368.45,154.83 368.89,145.74 369.34,158.80 369.79,155.60 370.23,157.05 370.68,161.42 371.13,154.38 371.57,168.12 372.02,150.18 372.47,166.57 372.91,160.48 373.36,158.58 373.81,161.55 374.25,161.74 374.70,153.60 375.15,148.84 375.59,154.33 376.04,158.51 376.49,162.26 376.93,162.93 377.38,153.53 377.83,155.03 378.27,153.02 378.72,154.52 379.17,152.98 379.61,160.04 380.06,163.02 380.51,164.13 380.95,159.66 381.40,160.67 381.85,159.67 382.29,163.91 382.74,160.23 383.19,158.27 383.63,161.32 384.08,168.50 384.53,162.32 384.97,163.68 385.42,160.31 385.87,163.71 386.31,162.03 386.76,164.84 387.21,163.50 387.65,162.45 388.10,165.20 388.55,164.26 388.99,164.71 389.44,163.53 389.89,165.49 390.33,164.68 390.78,168.32 391.23,165.40 391.67,164.58 392.12,164.91 392.57,167.18 393.01,166.99 393.46,165.46 393.91,165.11 394.35,165.44 394.80,165.97 395.25,165.96 395.69,164.88 396.14,167.30 396.59,167.93 397.03,166.46 397.48,168.08 397.93,168.09 398.37,168.40 398.82,168.48 399.27,168.50 399.71,168.50 400.16,168.50 400.61,168.50 401.05,168.50 401.50,168.50" fill="none" stroke="#000" stroke-width="0.55" stroke-linejoin="round"/>
<text x="339.8" y="140" font-size="8.3" textLength="32.3" lengthAdjust="spacingAndGlyphs">Se-Se-Se</text>
<text x="332.9" y="170.8" font-size="8.2" text-anchor="end">0</text>
<text x="332.9" y="155.2" font-size="8.2" text-anchor="end">0.01</text>
<text x="332.9" y="139.6" font-size="8.2" text-anchor="end">0.02</text>
<text x="343.43" y="176.4" font-size="8.2" text-anchor="middle">50</text>
<text x="365.77" y="176.4" font-size="8.2" text-anchor="middle">100</text>
<text x="388.1" y="176.4" font-size="8.2" text-anchor="middle">150</text>
<rect x="265.4" y="185.5" width="24.5" height="39.4" fill="#d6eaf2"/>
<path d="M252.5 224.9v-3.1M252.5 185.5v3.1M275.5 224.9v-3.1M275.5 185.5v3.1M297.5 224.9v-3.1M297.5 185.5v3.1M248.5 224.9v-1.8M248.5 185.5v1.8M257.5 224.9v-1.8M257.5 185.5v1.8M261.5 224.9v-1.8M261.5 185.5v1.8M266.5 224.9v-1.8M266.5 185.5v1.8M270.5 224.9v-1.8M270.5 185.5v1.8M279.5 224.9v-1.8M279.5 185.5v1.8M284.5 224.9v-1.8M284.5 185.5v1.8M288.5 224.9v-1.8M288.5 185.5v1.8M293.5 224.9v-1.8M293.5 185.5v1.8M302.5 224.9v-1.8M302.5 185.5v1.8M306.5 224.9v-1.8M306.5 185.5v1.8M243.5 224.5h3.1M311.5 224.5h-3.1M243.5 209.5h3.1M311.5 209.5h-3.1M243.5 193.5h3.1M311.5 193.5h-3.1M243.5 217.5h1.8M311.5 217.5h-1.8M243.5 201.5h1.8M311.5 201.5h-1.8" stroke="#8a8a8a" stroke-width="0.9" fill="none"/>
<rect x="243.5" y="185.5" width="68" height="39.4" fill="none" stroke="#8a8a8a" stroke-width="1.0"/>
<polyline points="243.50,224.90 243.95,224.90 244.41,224.90 244.86,224.90 245.31,224.90 245.77,224.90 246.22,224.90 246.67,224.90 247.13,224.90 247.58,224.90 248.03,224.90 248.49,224.90 248.94,224.90 249.39,224.90 249.85,224.90 250.30,224.90 250.75,224.90 251.21,224.90 251.66,224.90 252.11,224.79 252.57,224.49 253.02,223.68 253.47,222.39 253.93,219.99 254.38,217.63 254.83,218.68 255.29,215.95 255.74,214.57 256.19,213.11 256.65,202.44 257.10,199.02 257.55,208.85 258.01,203.36 258.46,205.77 258.91,214.56 259.37,212.87 259.82,215.47 260.27,215.09 260.73,219.70 261.18,217.31 261.63,217.70 262.09,218.49 262.54,218.46 262.99,221.27 263.45,219.74 263.90,219.88 264.35,219.54 264.81,219.18 265.26,219.46 265.71,220.59 266.17,219.50 266.62,219.50 267.07,219.45 267.53,220.15 267.98,220.15 268.43,219.92 268.89,221.29 269.34,220.60 269.79,221.42 270.25,220.31 270.70,220.21 271.15,221.74 271.61,222.00 272.06,219.99 272.51,218.98 272.97,219.88 273.42,216.35 273.87,218.32 274.33,218.34 274.78,214.30 275.23,214.98 275.69,212.12 276.14,213.41 276.59,215.49 277.05,213.59 277.50,208.57 277.95,215.10 278.41,211.35 278.86,208.61 279.31,210.48 279.77,211.49 280.22,212.88 280.67,210.70 281.13,209.95 281.58,210.57 282.03,205.45 282.49,207.22 282.94,208.26 283.39,210.61 283.85,208.91 284.30,211.46 284.75,207.01 285.21,205.42 285.66,206.28 286.11,211.07 286.57,210.46 287.02,215.55 287.47,211.75 287.93,210.68 288.38,212.83 288.83,210.68 289.29,209.63 289.74,207.24 290.19,210.98 290.65,214.28 291.10,213.89 291.55,212.48 292.01,211.60 292.46,212.27 292.91,212.23 293.37,215.58 293.82,215.31 294.27,213.87 294.73,212.85 295.18,211.34 295.63,208.39 296.09,208.05 296.54,211.89 296.99,211.80 297.45,211.58 297.90,212.62 298.35,215.88 298.81,217.84 299.26,217.81 299.71,216.14 300.17,214.90 300.62,217.18 301.07,217.19 301.53,217.16 301.98,219.51 302.43,217.36 302.89,217.91 303.34,219.47 303.79,220.49 304.25,220.47 304.70,221.64 305.15,220.70 305.61,220.93 306.06,219.96 306.51,219.67 306.97,217.29 307.42,219.84 307.87,219.19 308.33,220.28 308.78,219.52 309.23,220.35 309.69,221.97 310.14,221.60 310.59,220.70 311.05,220.97 311.50,219.83" fill="none" stroke="#000" stroke-width="0.8" stroke-linejoin="round"/>
<text x="250" y="195.8" font-size="8.3" textLength="32.2" lengthAdjust="spacingAndGlyphs">As-As-Se</text>
<text x="241.9" y="227.2" font-size="8.2" text-anchor="end">0</text>
<text x="241.9" y="211.44" font-size="8.2" text-anchor="end">0.01</text>
<text x="241.9" y="195.68" font-size="8.2" text-anchor="end">0.02</text>
<text x="252.57" y="232.8" font-size="8.2" text-anchor="middle">50</text>
<text x="275.23" y="232.8" font-size="8.2" text-anchor="middle">100</text>
<text x="297.9" y="232.8" font-size="8.2" text-anchor="middle">150</text>
<rect x="352.7" y="185.5" width="35.1" height="39.4" fill="#d6eaf2"/>
<path d="M343.5 224.9v-3.1M343.5 185.5v3.1M365.5 224.9v-3.1M365.5 185.5v3.1M388.5 224.9v-3.1M388.5 185.5v3.1M338.5 224.9v-1.8M338.5 185.5v1.8M347.5 224.9v-1.8M347.5 185.5v1.8M352.5 224.9v-1.8M352.5 185.5v1.8M356.5 224.9v-1.8M356.5 185.5v1.8M361.5 224.9v-1.8M361.5 185.5v1.8M370.5 224.9v-1.8M370.5 185.5v1.8M374.5 224.9v-1.8M374.5 185.5v1.8M379.5 224.9v-1.8M379.5 185.5v1.8M383.5 224.9v-1.8M383.5 185.5v1.8M392.5 224.9v-1.8M392.5 185.5v1.8M397.5 224.9v-1.8M397.5 185.5v1.8M334.5 224.5h3.1M401.5 224.5h-3.1M334.5 209.5h3.1M401.5 209.5h-3.1M334.5 193.5h3.1M401.5 193.5h-3.1M334.5 217.5h1.8M401.5 217.5h-1.8M334.5 201.5h1.8M401.5 201.5h-1.8" stroke="#8a8a8a" stroke-width="0.9" fill="none"/>
<rect x="334.5" y="185.5" width="67" height="39.4" fill="none" stroke="#8a8a8a" stroke-width="1.0"/>
<polyline points="334.50,224.90 334.95,224.90 335.39,224.90 335.84,224.90 336.29,224.90 336.73,224.90 337.18,224.90 337.63,224.90 338.07,224.90 338.52,224.90 338.97,224.90 339.41,224.90 339.86,224.90 340.31,224.90 340.75,224.90 341.20,224.90 341.65,224.90 342.09,224.90 342.54,224.61 342.99,223.81 343.43,223.23 343.88,220.15 344.33,218.84 344.77,212.39 345.22,204.93 345.67,198.74 346.11,204.67 346.56,201.04 347.01,204.97 347.45,203.25 347.90,209.46 348.35,211.35 348.79,209.89 349.24,213.73 349.69,210.14 350.13,212.78 350.58,214.83 351.03,216.69 351.47,217.44 351.92,216.46 352.37,218.32 352.81,218.80 353.26,216.67 353.71,218.70 354.15,219.08 354.60,218.88 355.05,216.75 355.49,218.89 355.94,218.71 356.39,216.37 356.83,216.16 357.28,215.75 357.73,218.96 358.17,217.05 358.62,217.17 359.07,217.01 359.51,219.92 359.96,217.87 360.41,215.95 360.85,217.23 361.30,220.75 361.75,215.99 362.19,216.90 362.64,217.83 363.09,217.39 363.53,217.83 363.98,215.53 364.43,217.29 364.87,219.66 365.32,218.44 365.77,214.44 366.21,215.14 366.66,215.57 367.11,218.07 367.55,215.79 368.00,214.88 368.45,216.35 368.89,215.19 369.34,214.41 369.79,214.49 370.23,215.43 370.68,215.34 371.13,218.27 371.57,216.54 372.02,214.44 372.47,212.78 372.91,215.47 373.36,213.74 373.81,215.64 374.25,215.23 374.70,214.74 375.15,214.64 375.59,217.15 376.04,217.08 376.49,215.33 376.93,214.00 377.38,214.46 377.83,218.00 378.27,213.88 378.72,216.61 379.17,214.79 379.61,218.42 380.06,211.63 380.51,215.15 380.95,210.43 381.40,218.68 381.85,219.01 382.29,214.30 382.74,214.01 383.19,218.99 383.63,214.75 384.08,214.05 384.53,213.25 384.97,215.63 385.42,218.71 385.87,219.45 386.31,212.35 386.76,215.40 387.21,214.43 387.65,216.75 388.10,216.60 388.55,216.56 388.99,217.82 389.44,216.68 389.89,218.11 390.33,216.87 390.78,212.85 391.23,216.06 391.67,217.28 392.12,213.00 392.57,213.72 393.01,215.93 393.46,219.09 393.91,213.61 394.35,211.80 394.80,216.92 395.25,213.21 395.69,217.29 396.14,216.23 396.59,216.57 397.03,215.38 397.48,215.99 397.93,213.17 398.37,216.49 398.82,215.17 399.27,216.01 399.71,214.27 400.16,217.81 400.61,214.69 401.05,214.53 401.50,215.67" fill="none" stroke="#000" stroke-width="0.8" stroke-linejoin="round"/>
<text x="340.1" y="195.8" font-size="8.3" textLength="32.3" lengthAdjust="spacingAndGlyphs">As-Se-Se</text>
<text x="332.9" y="227.2" font-size="8.2" text-anchor="end">0</text>
<text x="332.9" y="211.44" font-size="8.2" text-anchor="end">0.01</text>
<text x="332.9" y="195.68" font-size="8.2" text-anchor="end">0.02</text>
<text x="343.43" y="232.8" font-size="8.2" text-anchor="middle">50</text>
<text x="365.77" y="232.8" font-size="8.2" text-anchor="middle">100</text>
<text x="388.1" y="232.8" font-size="8.2" text-anchor="middle">150</text>
<text x="220" y="157.8" font-size="8.6" text-anchor="middle" textLength="32.2" lengthAdjust="spacingAndGlyphs" transform="rotate(-90 220 157.8)">fraction</text>
<path d="M255.5 275.5v-3.1M255.5 242v3.1M311.5 275.5v-3.1M311.5 242v3.1M367.5 275.5v-3.1M367.5 242v3.1M243.5 275.5v-1.8M243.5 242v1.8M266.5 275.5v-1.8M266.5 242v1.8M277.5 275.5v-1.8M277.5 242v1.8M288.5 275.5v-1.8M288.5 242v1.8M299.5 275.5v-1.8M299.5 242v1.8M322.5 275.5v-1.8M322.5 242v1.8M333.5 275.5v-1.8M333.5 242v1.8M344.5 275.5v-1.8M344.5 242v1.8M356.5 275.5v-1.8M356.5 242v1.8M378.5 275.5v-1.8M378.5 242v1.8M389.5 275.5v-1.8M389.5 242v1.8M401.5 275.5v-1.8M401.5 242v1.8M243.8 275.5h3.1M401 275.5h-3.1M243.8 264.5h3.1M401 264.5h-3.1M243.8 253.5h3.1M401 253.5h-3.1M243.8 242.5h3.1M401 242.5h-3.1M243.8 273.5h1.8M401 273.5h-1.8M243.8 271.5h1.8M401 271.5h-1.8M243.8 268.5h1.8M401 268.5h-1.8M243.8 266.5h1.8M401 266.5h-1.8M243.8 262.5h1.8M401 262.5h-1.8M243.8 259.5h1.8M401 259.5h-1.8M243.8 257.5h1.8M401 257.5h-1.8M243.8 255.5h1.8M401 255.5h-1.8M243.8 250.5h1.8M401 250.5h-1.8M243.8 248.5h1.8M401 248.5h-1.8M243.8 246.5h1.8M401 246.5h-1.8M243.8 244.5h1.8M401 244.5h-1.8" stroke="#8a8a8a" stroke-width="0.9" fill="none"/>
<rect x="243.8" y="242" width="157.2" height="33.5" fill="none" stroke="#8a8a8a" stroke-width="1.0"/>
<polyline points="243.80,275.50 244.92,275.50 246.05,275.50 247.17,275.50 248.29,275.50 249.41,275.50 250.54,275.50 251.66,275.50 252.78,275.50 253.91,275.14 255.03,273.42 256.15,271.88 257.27,270.05 258.40,267.12 259.52,264.51 260.64,261.80 261.77,259.48 262.89,257.62 264.01,257.67 265.13,256.89 266.26,256.59 267.38,257.67 268.50,257.31 269.63,261.11 270.75,261.47 271.87,262.87 272.99,261.56 274.12,261.77 275.24,261.21 276.36,263.23 277.49,264.02 278.61,265.29 279.73,264.85 280.85,263.76 281.98,263.67 283.10,265.18 284.22,264.31 285.35,261.88 286.47,262.36 287.59,266.34 288.71,264.26 289.84,264.64 290.96,261.80 292.08,261.68 293.21,261.56 294.33,261.23 295.45,260.57 296.57,258.99 297.70,257.65 298.82,259.69 299.94,252.72 301.07,254.83 302.19,257.51 303.31,256.26 304.43,253.92 305.56,258.41 306.68,257.82 307.80,257.78 308.93,258.50 310.05,255.18 311.17,256.96 312.29,256.32 313.42,256.30 314.54,256.79 315.66,253.49 316.79,256.65 317.91,257.95 319.03,253.17 320.15,258.09 321.28,257.00 322.40,257.58 323.52,257.91 324.65,259.46 325.77,258.32 326.89,258.51 328.01,261.36 329.14,259.03 330.26,259.24 331.38,260.57 332.51,258.84 333.63,260.71 334.75,262.19 335.87,260.10 337.00,259.25 338.12,263.40 339.24,262.12 340.37,261.05 341.49,261.59 342.61,261.31 343.73,261.29 344.86,265.21 345.98,262.82 347.10,265.58 348.23,265.06 349.35,265.31 350.47,263.89 351.59,265.97 352.72,264.41 353.84,265.92 354.96,262.93 356.09,265.24 357.21,264.99 358.33,266.16 359.45,265.92 360.58,264.72 361.70,265.65 362.82,266.75 363.95,266.39 365.07,266.26 366.19,265.14 367.31,266.42 368.44,266.19 369.56,265.97 370.68,265.39 371.81,266.51 372.93,267.57 374.05,267.67 375.17,266.55 376.30,267.34 377.42,268.53 378.54,268.06 379.67,268.18 380.79,268.27 381.91,268.00 383.03,268.10 384.16,267.97 385.28,269.22 386.40,268.68 387.53,269.12 388.65,269.90 389.77,270.68 390.89,272.18 392.02,272.18 393.14,270.60 394.26,270.05 395.39,269.75 396.51,269.46 397.63,269.95 398.75,269.21 399.88,269.47 401.00,269.34" fill="none" stroke="#000" stroke-width="0.85" stroke-linejoin="round"/>
<text x="376.2" y="254.4" font-size="8.6" textLength="18" lengthAdjust="spacingAndGlyphs">total</text>
<text x="242.2" y="277.8" font-size="8.2" text-anchor="end">0</text>
<text x="242.2" y="266.63" font-size="8.2" text-anchor="end">0.005</text>
<text x="242.2" y="255.47" font-size="8.2" text-anchor="end">0.01</text>
<text x="242.2" y="244.3" font-size="8.2" text-anchor="end">0.015</text>
<text x="255.03" y="284" font-size="8.2" text-anchor="middle">50</text>
<text x="311.17" y="284" font-size="8.2" text-anchor="middle">100</text>
<text x="367.31" y="284" font-size="8.2" text-anchor="middle">150</text>
<text x="323" y="294.8" font-size="8.6" text-anchor="middle" textLength="29" lengthAdjust="spacingAndGlyphs">θ [deg.]</text>
</svg>
</body></html>
